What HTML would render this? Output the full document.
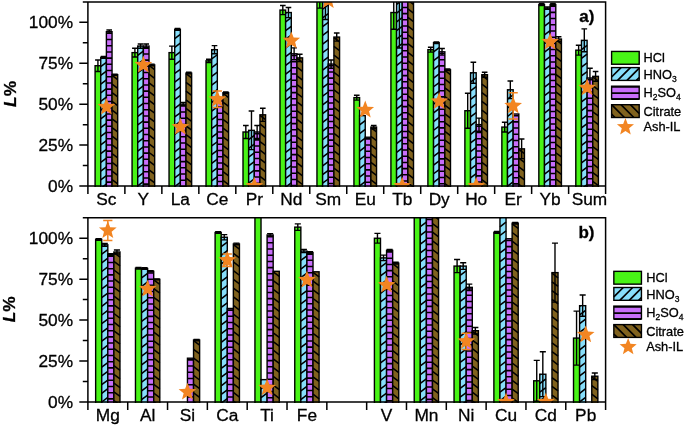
<!DOCTYPE html>
<html><head><meta charset="utf-8"><title>Leaching chart</title>
<style>html,body{margin:0;padding:0;background:#fff;overflow:hidden}svg{display:block}text{stroke:#000;stroke-width:.3px}</style></head>
<body>
<svg width="685" height="426" viewBox="0 0 685 426" font-family='"Liberation Sans", Arial, sans-serif' fill="#000">

<clipPath id="clipa"><rect x="87.90" y="1.90" width="517.70" height="185.10"/></clipPath>
<g clip-path="url(#clipa)">
<rect x="95.09" y="65.72" width="5.65" height="122.28" fill="#48f416"/><rect x="95.09" y="65.72" width="5.65" height="122.28" fill="none" stroke="#000" stroke-width="1.4"/>
<rect x="100.74" y="57.38" width="5.65" height="130.62" fill="#87defa"/><path d="M100.74 57.98L101.54 57.38M100.74 66.68L106.39 62.44M100.74 75.38L106.39 71.14M100.74 84.08L106.39 79.84M100.74 92.78L106.39 88.54M100.74 101.48L106.39 97.24M100.74 110.18L106.39 105.94M100.74 118.88L106.39 114.64M100.74 127.58L106.39 123.34M100.74 136.28L106.39 132.04M100.74 144.98L106.39 140.74M100.74 153.68L106.39 149.44M100.74 162.38L106.39 158.14M100.74 171.08L106.39 166.84M100.74 179.78L106.39 175.54M101.37 188.00L106.39 184.24" stroke="#000" stroke-width="1.55" fill="none"/><rect x="100.74" y="57.38" width="5.65" height="130.62" fill="none" stroke="#000" stroke-width="1.4"/>
<rect x="106.39" y="31.68" width="5.65" height="156.32" fill="#c86efa"/><path d="M106.39 33.33h5.65M106.39 39.53h5.65M106.39 45.73h5.65M106.39 51.93h5.65M106.39 58.13h5.65M106.39 64.33h5.65M106.39 70.53h5.65M106.39 76.73h5.65M106.39 82.93h5.65M106.39 89.13h5.65M106.39 95.33h5.65M106.39 101.53h5.65M106.39 107.73h5.65M106.39 113.93h5.65M106.39 120.13h5.65M106.39 126.33h5.65M106.39 132.53h5.65M106.39 138.73h5.65M106.39 144.93h5.65M106.39 151.13h5.65M106.39 157.33h5.65M106.39 163.53h5.65M106.39 169.73h5.65M106.39 175.93h5.65M106.39 182.13h5.65" stroke="#000" stroke-width="1.55" fill="none"/><rect x="106.39" y="31.68" width="5.65" height="156.32" fill="none" stroke="#000" stroke-width="1.4"/>
<rect x="112.04" y="74.72" width="5.65" height="113.28" fill="#80621e"/><path d="M112.04 75.32L117.69 79.56M112.04 84.02L117.69 88.26M112.04 92.72L117.69 96.96M112.04 101.42L117.69 105.66M112.04 110.12L117.69 114.36M112.04 118.82L117.69 123.06M112.04 127.52L117.69 131.76M112.04 136.22L117.69 140.46M112.04 144.92L117.69 149.16M112.04 153.62L117.69 157.86M112.04 162.32L117.69 166.56M112.04 171.02L117.69 175.26M112.04 179.72L117.69 183.96" stroke="#000" stroke-width="1.55" fill="none"/><rect x="112.04" y="74.72" width="5.65" height="113.28" fill="none" stroke="#000" stroke-width="1.4"/>
<rect x="132.07" y="52.63" width="5.65" height="135.37" fill="#48f416"/><rect x="132.07" y="52.63" width="5.65" height="135.37" fill="none" stroke="#000" stroke-width="1.4"/>
<rect x="137.72" y="46.08" width="5.65" height="141.92" fill="#87defa"/><path d="M137.72 46.68L138.52 46.08M137.72 55.38L143.37 51.15M137.72 64.08L143.37 59.85M137.72 72.78L143.37 68.55M137.72 81.48L143.37 77.25M137.72 90.18L143.37 85.95M137.72 98.88L143.37 94.65M137.72 107.58L143.37 103.35M137.72 116.28L143.37 112.05M137.72 124.98L143.37 120.75M137.72 133.68L143.37 129.45M137.72 142.38L143.37 138.15M137.72 151.08L143.37 146.85M137.72 159.78L143.37 155.55M137.72 168.48L143.37 164.25M137.72 177.18L143.37 172.95M137.72 185.88L143.37 181.65" stroke="#000" stroke-width="1.55" fill="none"/><rect x="137.72" y="46.08" width="5.65" height="141.92" fill="none" stroke="#000" stroke-width="1.4"/>
<rect x="143.37" y="46.08" width="5.65" height="141.92" fill="#c86efa"/><path d="M143.37 47.73h5.65M143.37 53.93h5.65M143.37 60.13h5.65M143.37 66.33h5.65M143.37 72.53h5.65M143.37 78.73h5.65M143.37 84.93h5.65M143.37 91.13h5.65M143.37 97.33h5.65M143.37 103.53h5.65M143.37 109.73h5.65M143.37 115.93h5.65M143.37 122.13h5.65M143.37 128.33h5.65M143.37 134.53h5.65M143.37 140.73h5.65M143.37 146.93h5.65M143.37 153.13h5.65M143.37 159.33h5.65M143.37 165.53h5.65M143.37 171.73h5.65M143.37 177.93h5.65M143.37 184.13h5.65" stroke="#000" stroke-width="1.55" fill="none"/><rect x="143.37" y="46.08" width="5.65" height="141.92" fill="none" stroke="#000" stroke-width="1.4"/>
<rect x="149.02" y="64.90" width="5.65" height="123.10" fill="#80621e"/><path d="M149.02 65.50L154.66 69.74M149.02 74.20L154.66 78.44M149.02 82.90L154.66 87.14M149.02 91.60L154.66 95.84M149.02 100.30L154.66 104.54M149.02 109.00L154.66 113.24M149.02 117.70L154.66 121.94M149.02 126.40L154.66 130.64M149.02 135.10L154.66 139.34M149.02 143.80L154.66 148.04M149.02 152.50L154.66 156.74M149.02 161.20L154.66 165.44M149.02 169.90L154.66 174.14M149.02 178.60L154.66 182.84M149.02 187.30L149.95 188.00" stroke="#000" stroke-width="1.55" fill="none"/><rect x="149.02" y="64.90" width="5.65" height="123.10" fill="none" stroke="#000" stroke-width="1.4"/>
<rect x="169.05" y="52.63" width="5.65" height="135.37" fill="#48f416"/><rect x="169.05" y="52.63" width="5.65" height="135.37" fill="none" stroke="#000" stroke-width="1.4"/>
<rect x="174.70" y="29.39" width="5.65" height="158.61" fill="#87defa"/><path d="M174.70 29.99L175.50 29.39M174.70 38.69L180.35 34.46M174.70 47.39L180.35 43.16M174.70 56.09L180.35 51.86M174.70 64.79L180.35 60.56M174.70 73.49L180.35 69.26M174.70 82.19L180.35 77.96M174.70 90.89L180.35 86.66M174.70 99.59L180.35 95.36M174.70 108.29L180.35 104.06M174.70 116.99L180.35 112.76M174.70 125.69L180.35 121.46M174.70 134.39L180.35 130.16M174.70 143.09L180.35 138.86M174.70 151.79L180.35 147.56M174.70 160.49L180.35 156.26M174.70 169.19L180.35 164.96M174.70 177.89L180.35 173.66M174.70 186.59L180.35 182.36" stroke="#000" stroke-width="1.55" fill="none"/><rect x="174.70" y="29.39" width="5.65" height="158.61" fill="none" stroke="#000" stroke-width="1.4"/>
<rect x="180.35" y="104.18" width="5.65" height="83.82" fill="#c86efa"/><path d="M180.35 105.83h5.65M180.35 112.03h5.65M180.35 118.23h5.65M180.35 124.43h5.65M180.35 130.63h5.65M180.35 136.83h5.65M180.35 143.03h5.65M180.35 149.23h5.65M180.35 155.43h5.65M180.35 161.63h5.65M180.35 167.83h5.65M180.35 174.03h5.65M180.35 180.23h5.65M180.35 186.43h5.65" stroke="#000" stroke-width="1.55" fill="none"/><rect x="180.35" y="104.18" width="5.65" height="83.82" fill="none" stroke="#000" stroke-width="1.4"/>
<rect x="185.99" y="73.09" width="5.65" height="114.91" fill="#80621e"/><path d="M185.99 73.69L191.64 77.92M185.99 82.39L191.64 86.62M185.99 91.09L191.64 95.32M185.99 99.79L191.64 104.02M185.99 108.49L191.64 112.72M185.99 117.19L191.64 121.42M185.99 125.89L191.64 130.12M185.99 134.59L191.64 138.82M185.99 143.29L191.64 147.52M185.99 151.99L191.64 156.22M185.99 160.69L191.64 164.92M185.99 169.39L191.64 173.62M185.99 178.09L191.64 182.32M185.99 186.79L187.61 188.00" stroke="#000" stroke-width="1.55" fill="none"/><rect x="185.99" y="73.09" width="5.65" height="114.91" fill="none" stroke="#000" stroke-width="1.4"/>
<rect x="206.03" y="60.81" width="5.65" height="127.19" fill="#48f416"/><rect x="206.03" y="60.81" width="5.65" height="127.19" fill="none" stroke="#000" stroke-width="1.4"/>
<rect x="211.68" y="49.68" width="5.65" height="138.32" fill="#87defa"/><path d="M211.68 50.28L212.48 49.68M211.68 58.98L217.33 54.75M211.68 67.68L217.33 63.45M211.68 76.38L217.33 72.15M211.68 85.08L217.33 80.85M211.68 93.78L217.33 89.55M211.68 102.48L217.33 98.25M211.68 111.18L217.33 106.95M211.68 119.88L217.33 115.65M211.68 128.58L217.33 124.35M211.68 137.28L217.33 133.05M211.68 145.98L217.33 141.75M211.68 154.68L217.33 150.45M211.68 163.38L217.33 159.15M211.68 172.08L217.33 167.85M211.68 180.78L217.33 176.55M213.66 188.00L217.33 185.25" stroke="#000" stroke-width="1.55" fill="none"/><rect x="211.68" y="49.68" width="5.65" height="138.32" fill="none" stroke="#000" stroke-width="1.4"/>
<rect x="217.33" y="99.27" width="5.65" height="88.73" fill="#c86efa"/><path d="M217.33 100.92h5.65M217.33 107.12h5.65M217.33 113.32h5.65M217.33 119.52h5.65M217.33 125.72h5.65M217.33 131.92h5.65M217.33 138.12h5.65M217.33 144.32h5.65M217.33 150.52h5.65M217.33 156.72h5.65M217.33 162.92h5.65M217.33 169.12h5.65M217.33 175.32h5.65M217.33 181.52h5.65M217.33 187.72h5.65" stroke="#000" stroke-width="1.55" fill="none"/><rect x="217.33" y="99.27" width="5.65" height="88.73" fill="none" stroke="#000" stroke-width="1.4"/>
<rect x="222.97" y="92.72" width="5.65" height="95.28" fill="#80621e"/><path d="M222.97 93.32L228.62 97.56M222.97 102.02L228.62 106.26M222.97 110.72L228.62 114.96M222.97 119.42L228.62 123.66M222.97 128.12L228.62 132.36M222.97 136.82L228.62 141.06M222.97 145.52L228.62 149.76M222.97 154.22L228.62 158.46M222.97 162.92L228.62 167.16M222.97 171.62L228.62 175.86M222.97 180.32L228.62 184.56" stroke="#000" stroke-width="1.55" fill="none"/><rect x="222.97" y="92.72" width="5.65" height="95.28" fill="none" stroke="#000" stroke-width="1.4"/>
<rect x="243.01" y="132.00" width="5.65" height="56.00" fill="#48f416"/><rect x="243.01" y="132.00" width="5.65" height="56.00" fill="none" stroke="#000" stroke-width="1.4"/>
<rect x="248.66" y="130.36" width="5.65" height="57.64" fill="#87defa"/><path d="M248.66 130.96L249.46 130.36M248.66 139.66L254.30 135.42M248.66 148.36L254.30 144.12M248.66 157.06L254.30 152.82M248.66 165.76L254.30 161.52M248.66 174.46L254.30 170.22M248.66 183.16L254.30 178.92M253.80 188.00L254.30 187.62" stroke="#000" stroke-width="1.55" fill="none"/><rect x="248.66" y="130.36" width="5.65" height="57.64" fill="none" stroke="#000" stroke-width="1.4"/>
<rect x="254.30" y="132.00" width="5.65" height="56.00" fill="#c86efa"/><path d="M254.30 133.65h5.65M254.30 139.85h5.65M254.30 146.05h5.65M254.30 152.25h5.65M254.30 158.45h5.65M254.30 164.65h5.65M254.30 170.85h5.65M254.30 177.05h5.65M254.30 183.25h5.65" stroke="#000" stroke-width="1.55" fill="none"/><rect x="254.30" y="132.00" width="5.65" height="56.00" fill="none" stroke="#000" stroke-width="1.4"/>
<rect x="259.95" y="114.81" width="5.65" height="73.19" fill="#80621e"/><path d="M259.95 115.41L265.60 119.65M259.95 124.11L265.60 128.35M259.95 132.81L265.60 137.05M259.95 141.51L265.60 145.75M259.95 150.21L265.60 154.45M259.95 158.91L265.60 163.15M259.95 167.61L265.60 171.85M259.95 176.31L265.60 180.55M259.95 185.01L263.93 188.00" stroke="#000" stroke-width="1.55" fill="none"/><rect x="259.95" y="114.81" width="5.65" height="73.19" fill="none" stroke="#000" stroke-width="1.4"/>
<rect x="279.99" y="10.08" width="5.65" height="177.92" fill="#48f416"/><rect x="279.99" y="10.08" width="5.65" height="177.92" fill="none" stroke="#000" stroke-width="1.4"/>
<rect x="285.63" y="12.54" width="5.65" height="175.46" fill="#87defa"/><path d="M285.63 13.14L286.43 12.54M285.63 21.84L291.28 17.60M285.63 30.54L291.28 26.30M285.63 39.24L291.28 35.00M285.63 47.94L291.28 43.70M285.63 56.64L291.28 52.40M285.63 65.34L291.28 61.10M285.63 74.04L291.28 69.80M285.63 82.74L291.28 78.50M285.63 91.44L291.28 87.20M285.63 100.14L291.28 95.90M285.63 108.84L291.28 104.60M285.63 117.54L291.28 113.30M285.63 126.24L291.28 122.00M285.63 134.94L291.28 130.70M285.63 143.64L291.28 139.40M285.63 152.34L291.28 148.10M285.63 161.04L291.28 156.80M285.63 169.74L291.28 165.50M285.63 178.44L291.28 174.20M285.63 187.14L291.28 182.90" stroke="#000" stroke-width="1.55" fill="none"/><rect x="285.63" y="12.54" width="5.65" height="175.46" fill="none" stroke="#000" stroke-width="1.4"/>
<rect x="291.28" y="53.78" width="5.65" height="134.22" fill="#c86efa"/><path d="M291.28 55.43h5.65M291.28 61.63h5.65M291.28 67.83h5.65M291.28 74.03h5.65M291.28 80.23h5.65M291.28 86.43h5.65M291.28 92.63h5.65M291.28 98.83h5.65M291.28 105.03h5.65M291.28 111.23h5.65M291.28 117.43h5.65M291.28 123.63h5.65M291.28 129.83h5.65M291.28 136.03h5.65M291.28 142.23h5.65M291.28 148.43h5.65M291.28 154.63h5.65M291.28 160.83h5.65M291.28 167.03h5.65M291.28 173.23h5.65M291.28 179.43h5.65M291.28 185.63h5.65" stroke="#000" stroke-width="1.55" fill="none"/><rect x="291.28" y="53.78" width="5.65" height="134.22" fill="none" stroke="#000" stroke-width="1.4"/>
<rect x="296.93" y="57.87" width="5.65" height="130.13" fill="#80621e"/><path d="M296.93 58.47L302.58 62.70M296.93 67.17L302.58 71.40M296.93 75.87L302.58 80.10M296.93 84.57L302.58 88.80M296.93 93.27L302.58 97.50M296.93 101.97L302.58 106.20M296.93 110.67L302.58 114.90M296.93 119.37L302.58 123.60M296.93 128.07L302.58 132.30M296.93 136.77L302.58 141.00M296.93 145.47L302.58 149.70M296.93 154.17L302.58 158.40M296.93 162.87L302.58 167.10M296.93 171.57L302.58 175.80M296.93 180.27L302.58 184.50" stroke="#000" stroke-width="1.55" fill="none"/><rect x="296.93" y="57.87" width="5.65" height="130.13" fill="none" stroke="#000" stroke-width="1.4"/>
<rect x="316.96" y="-3.83" width="5.65" height="191.83" fill="#48f416"/><rect x="316.96" y="-3.83" width="5.65" height="191.83" fill="none" stroke="#000" stroke-width="1.4"/>
<rect x="322.61" y="-0.06" width="5.65" height="188.06" fill="#87defa"/><path d="M322.61 0.54L323.41 -0.06M322.61 9.24L328.26 5.00M322.61 17.94L328.26 13.70M322.61 26.64L328.26 22.40M322.61 35.34L328.26 31.10M322.61 44.04L328.26 39.80M322.61 52.74L328.26 48.50M322.61 61.44L328.26 57.20M322.61 70.14L328.26 65.90M322.61 78.84L328.26 74.60M322.61 87.54L328.26 83.30M322.61 96.24L328.26 92.00M322.61 104.94L328.26 100.70M322.61 113.64L328.26 109.40M322.61 122.34L328.26 118.10M322.61 131.04L328.26 126.80M322.61 139.74L328.26 135.50M322.61 148.44L328.26 144.20M322.61 157.14L328.26 152.90M322.61 165.84L328.26 161.60M322.61 174.54L328.26 170.30M322.61 183.24L328.26 179.00M327.86 188.00L328.26 187.70" stroke="#000" stroke-width="1.55" fill="none"/><rect x="322.61" y="-0.06" width="5.65" height="188.06" fill="none" stroke="#000" stroke-width="1.4"/>
<rect x="328.26" y="64.08" width="5.65" height="123.92" fill="#c86efa"/><path d="M328.26 65.73h5.65M328.26 71.93h5.65M328.26 78.13h5.65M328.26 84.33h5.65M328.26 90.53h5.65M328.26 96.73h5.65M328.26 102.93h5.65M328.26 109.13h5.65M328.26 115.33h5.65M328.26 121.53h5.65M328.26 127.73h5.65M328.26 133.93h5.65M328.26 140.13h5.65M328.26 146.33h5.65M328.26 152.53h5.65M328.26 158.73h5.65M328.26 164.93h5.65M328.26 171.13h5.65M328.26 177.33h5.65M328.26 183.53h5.65" stroke="#000" stroke-width="1.55" fill="none"/><rect x="328.26" y="64.08" width="5.65" height="123.92" fill="none" stroke="#000" stroke-width="1.4"/>
<rect x="333.91" y="37.08" width="5.65" height="150.92" fill="#80621e"/><path d="M333.91 37.68L339.56 41.92M333.91 46.38L339.56 50.62M333.91 55.08L339.56 59.32M333.91 63.78L339.56 68.02M333.91 72.48L339.56 76.72M333.91 81.18L339.56 85.42M333.91 89.88L339.56 94.12M333.91 98.58L339.56 102.82M333.91 107.28L339.56 111.52M333.91 115.98L339.56 120.22M333.91 124.68L339.56 128.92M333.91 133.38L339.56 137.62M333.91 142.08L339.56 146.32M333.91 150.78L339.56 155.02M333.91 159.48L339.56 163.72M333.91 168.18L339.56 172.42M333.91 176.88L339.56 181.12M333.91 185.58L337.13 188.00" stroke="#000" stroke-width="1.55" fill="none"/><rect x="333.91" y="37.08" width="5.65" height="150.92" fill="none" stroke="#000" stroke-width="1.4"/>
<rect x="353.94" y="97.63" width="5.65" height="90.37" fill="#48f416"/><rect x="353.94" y="97.63" width="5.65" height="90.37" fill="none" stroke="#000" stroke-width="1.4"/>
<rect x="359.59" y="115.63" width="5.65" height="72.37" fill="#87defa"/><path d="M359.59 116.23L360.39 115.63M359.59 124.93L365.24 120.70M359.59 133.63L365.24 129.40M359.59 142.33L365.24 138.10M359.59 151.03L365.24 146.80M359.59 159.73L365.24 155.50M359.59 168.43L365.24 164.20M359.59 177.13L365.24 172.90M359.59 185.83L365.24 181.60" stroke="#000" stroke-width="1.55" fill="none"/><rect x="359.59" y="115.63" width="5.65" height="72.37" fill="none" stroke="#000" stroke-width="1.4"/>
<rect x="365.24" y="137.23" width="5.65" height="50.77" fill="#c86efa"/><path d="M365.24 138.88h5.65M365.24 145.08h5.65M365.24 151.28h5.65M365.24 157.48h5.65M365.24 163.68h5.65M365.24 169.88h5.65M365.24 176.08h5.65M365.24 182.28h5.65" stroke="#000" stroke-width="1.55" fill="none"/><rect x="365.24" y="137.23" width="5.65" height="50.77" fill="none" stroke="#000" stroke-width="1.4"/>
<rect x="370.89" y="127.09" width="5.65" height="60.91" fill="#80621e"/><path d="M370.89 127.69L376.54 131.92M370.89 136.39L376.54 140.62M370.89 145.09L376.54 149.32M370.89 153.79L376.54 158.02M370.89 162.49L376.54 166.72M370.89 171.19L376.54 175.42M370.89 179.89L376.54 184.12" stroke="#000" stroke-width="1.55" fill="none"/><rect x="370.89" y="127.09" width="5.65" height="60.91" fill="none" stroke="#000" stroke-width="1.4"/>
<rect x="390.92" y="12.54" width="5.65" height="175.46" fill="#48f416"/><rect x="390.92" y="12.54" width="5.65" height="175.46" fill="none" stroke="#000" stroke-width="1.4"/>
<rect x="396.57" y="-4.89" width="5.65" height="192.89" fill="#87defa"/><path d="M396.57 -4.29L397.37 -4.89M396.57 4.41L402.22 0.17M396.57 13.11L402.22 8.87M396.57 21.81L402.22 17.57M396.57 30.51L402.22 26.27M396.57 39.21L402.22 34.97M396.57 47.91L402.22 43.67M396.57 56.61L402.22 52.37M396.57 65.31L402.22 61.07M396.57 74.01L402.22 69.77M396.57 82.71L402.22 78.47M396.57 91.41L402.22 87.17M396.57 100.11L402.22 95.87M396.57 108.81L402.22 104.57M396.57 117.51L402.22 113.27M396.57 126.21L402.22 121.97M396.57 134.91L402.22 130.67M396.57 143.61L402.22 139.37M396.57 152.31L402.22 148.07M396.57 161.01L402.22 156.77M396.57 169.71L402.22 165.47M396.57 178.41L402.22 174.17M396.57 187.11L402.22 182.87" stroke="#000" stroke-width="1.55" fill="none"/><rect x="396.57" y="-4.89" width="5.65" height="192.89" fill="none" stroke="#000" stroke-width="1.4"/>
<rect x="402.22" y="-6.61" width="5.65" height="194.61" fill="#c86efa"/><path d="M402.22 -4.96h5.65M402.22 1.24h5.65M402.22 7.44h5.65M402.22 13.64h5.65M402.22 19.84h5.65M402.22 26.04h5.65M402.22 32.24h5.65M402.22 38.44h5.65M402.22 44.64h5.65M402.22 50.84h5.65M402.22 57.04h5.65M402.22 63.24h5.65M402.22 69.44h5.65M402.22 75.64h5.65M402.22 81.84h5.65M402.22 88.04h5.65M402.22 94.24h5.65M402.22 100.44h5.65M402.22 106.64h5.65M402.22 112.84h5.65M402.22 119.04h5.65M402.22 125.24h5.65M402.22 131.44h5.65M402.22 137.64h5.65M402.22 143.84h5.65M402.22 150.04h5.65M402.22 156.24h5.65M402.22 162.44h5.65M402.22 168.64h5.65M402.22 174.84h5.65M402.22 181.04h5.65M402.22 187.24h5.65" stroke="#000" stroke-width="1.55" fill="none"/><rect x="402.22" y="-6.61" width="5.65" height="194.61" fill="none" stroke="#000" stroke-width="1.4"/>
<rect x="407.87" y="-9.23" width="5.65" height="197.23" fill="#80621e"/><path d="M407.87 -8.63L413.51 -4.39M407.87 0.07L413.51 4.31M407.87 8.77L413.51 13.01M407.87 17.47L413.51 21.71M407.87 26.17L413.51 30.41M407.87 34.87L413.51 39.11M407.87 43.57L413.51 47.81M407.87 52.27L413.51 56.51M407.87 60.97L413.51 65.21M407.87 69.67L413.51 73.91M407.87 78.37L413.51 82.61M407.87 87.07L413.51 91.31M407.87 95.77L413.51 100.01M407.87 104.47L413.51 108.71M407.87 113.17L413.51 117.41M407.87 121.87L413.51 126.11M407.87 130.57L413.51 134.81M407.87 139.27L413.51 143.51M407.87 147.97L413.51 152.21M407.87 156.67L413.51 160.91M407.87 165.37L413.51 169.61M407.87 174.07L413.51 178.31M407.87 182.77L413.51 187.01" stroke="#000" stroke-width="1.55" fill="none"/><rect x="407.87" y="-9.23" width="5.65" height="197.23" fill="none" stroke="#000" stroke-width="1.4"/>
<rect x="427.90" y="49.68" width="5.65" height="138.32" fill="#48f416"/><rect x="427.90" y="49.68" width="5.65" height="138.32" fill="none" stroke="#000" stroke-width="1.4"/>
<rect x="433.55" y="42.65" width="5.65" height="145.35" fill="#87defa"/><path d="M433.55 43.25L434.35 42.65M433.55 51.95L439.20 47.71M433.55 60.65L439.20 56.41M433.55 69.35L439.20 65.11M433.55 78.05L439.20 73.81M433.55 86.75L439.20 82.51M433.55 95.45L439.20 91.21M433.55 104.15L439.20 99.91M433.55 112.85L439.20 108.61M433.55 121.55L439.20 117.31M433.55 130.25L439.20 126.01M433.55 138.95L439.20 134.71M433.55 147.65L439.20 143.41M433.55 156.35L439.20 152.11M433.55 165.05L439.20 160.81M433.55 173.75L439.20 169.51M433.55 182.45L439.20 178.21M437.74 188.00L439.20 186.91" stroke="#000" stroke-width="1.55" fill="none"/><rect x="433.55" y="42.65" width="5.65" height="145.35" fill="none" stroke="#000" stroke-width="1.4"/>
<rect x="439.20" y="51.81" width="5.65" height="136.19" fill="#c86efa"/><path d="M439.20 53.46h5.65M439.20 59.66h5.65M439.20 65.86h5.65M439.20 72.06h5.65M439.20 78.26h5.65M439.20 84.46h5.65M439.20 90.66h5.65M439.20 96.86h5.65M439.20 103.06h5.65M439.20 109.26h5.65M439.20 115.46h5.65M439.20 121.66h5.65M439.20 127.86h5.65M439.20 134.06h5.65M439.20 140.26h5.65M439.20 146.46h5.65M439.20 152.66h5.65M439.20 158.86h5.65M439.20 165.06h5.65M439.20 171.26h5.65M439.20 177.46h5.65M439.20 183.66h5.65" stroke="#000" stroke-width="1.55" fill="none"/><rect x="439.20" y="51.81" width="5.65" height="136.19" fill="none" stroke="#000" stroke-width="1.4"/>
<rect x="444.84" y="69.81" width="5.65" height="118.19" fill="#80621e"/><path d="M444.84 70.41L450.49 74.65M444.84 79.11L450.49 83.35M444.84 87.81L450.49 92.05M444.84 96.51L450.49 100.75M444.84 105.21L450.49 109.45M444.84 113.91L450.49 118.15M444.84 122.61L450.49 126.85M444.84 131.31L450.49 135.55M444.84 140.01L450.49 144.25M444.84 148.71L450.49 152.95M444.84 157.41L450.49 161.65M444.84 166.11L450.49 170.35M444.84 174.81L450.49 179.05M444.84 183.51L450.49 187.75" stroke="#000" stroke-width="1.55" fill="none"/><rect x="444.84" y="69.81" width="5.65" height="118.19" fill="none" stroke="#000" stroke-width="1.4"/>
<rect x="464.88" y="110.72" width="5.65" height="77.28" fill="#48f416"/><rect x="464.88" y="110.72" width="5.65" height="77.28" fill="none" stroke="#000" stroke-width="1.4"/>
<rect x="470.53" y="72.76" width="5.65" height="115.24" fill="#87defa"/><path d="M470.53 73.36L471.33 72.76M470.53 82.06L476.18 77.82M470.53 90.76L476.18 86.52M470.53 99.46L476.18 95.22M470.53 108.16L476.18 103.92M470.53 116.86L476.18 112.62M470.53 125.56L476.18 121.32M470.53 134.26L476.18 130.02M470.53 142.96L476.18 138.72M470.53 151.66L476.18 147.42M470.53 160.36L476.18 156.12M470.53 169.06L476.18 164.82M470.53 177.76L476.18 173.52M470.53 186.46L476.18 182.22" stroke="#000" stroke-width="1.55" fill="none"/><rect x="470.53" y="72.76" width="5.65" height="115.24" fill="none" stroke="#000" stroke-width="1.4"/>
<rect x="476.18" y="124.63" width="5.65" height="63.37" fill="#c86efa"/><path d="M476.18 126.28h5.65M476.18 132.48h5.65M476.18 138.68h5.65M476.18 144.88h5.65M476.18 151.08h5.65M476.18 157.28h5.65M476.18 163.48h5.65M476.18 169.68h5.65M476.18 175.88h5.65M476.18 182.08h5.65" stroke="#000" stroke-width="1.55" fill="none"/><rect x="476.18" y="124.63" width="5.65" height="63.37" fill="none" stroke="#000" stroke-width="1.4"/>
<rect x="481.82" y="74.72" width="5.65" height="113.28" fill="#80621e"/><path d="M481.82 75.32L487.47 79.56M481.82 84.02L487.47 88.26M481.82 92.72L487.47 96.96M481.82 101.42L487.47 105.66M481.82 110.12L487.47 114.36M481.82 118.82L487.47 123.06M481.82 127.52L487.47 131.76M481.82 136.22L487.47 140.46M481.82 144.92L487.47 149.16M481.82 153.62L487.47 157.86M481.82 162.32L487.47 166.56M481.82 171.02L487.47 175.26M481.82 179.72L487.47 183.96" stroke="#000" stroke-width="1.55" fill="none"/><rect x="481.82" y="74.72" width="5.65" height="113.28" fill="none" stroke="#000" stroke-width="1.4"/>
<rect x="501.86" y="127.09" width="5.65" height="60.91" fill="#48f416"/><rect x="501.86" y="127.09" width="5.65" height="60.91" fill="none" stroke="#000" stroke-width="1.4"/>
<rect x="507.51" y="89.78" width="5.65" height="98.22" fill="#87defa"/><path d="M507.51 90.38L508.31 89.78M507.51 99.08L513.15 94.84M507.51 107.78L513.15 103.54M507.51 116.48L513.15 112.24M507.51 125.18L513.15 120.94M507.51 133.88L513.15 129.64M507.51 142.58L513.15 138.34M507.51 151.28L513.15 147.04M507.51 159.98L513.15 155.74M507.51 168.68L513.15 164.44M507.51 177.38L513.15 173.14M507.51 186.08L513.15 181.84" stroke="#000" stroke-width="1.55" fill="none"/><rect x="507.51" y="89.78" width="5.65" height="98.22" fill="none" stroke="#000" stroke-width="1.4"/>
<rect x="513.15" y="114.00" width="5.65" height="74.00" fill="#c86efa"/><path d="M513.15 115.65h5.65M513.15 121.85h5.65M513.15 128.05h5.65M513.15 134.25h5.65M513.15 140.45h5.65M513.15 146.65h5.65M513.15 152.85h5.65M513.15 159.05h5.65M513.15 165.25h5.65M513.15 171.45h5.65M513.15 177.65h5.65M513.15 183.85h5.65" stroke="#000" stroke-width="1.55" fill="none"/><rect x="513.15" y="114.00" width="5.65" height="74.00" fill="none" stroke="#000" stroke-width="1.4"/>
<rect x="518.80" y="148.85" width="5.65" height="39.15" fill="#80621e"/><path d="M518.80 149.45L524.45 153.69M518.80 158.15L524.45 162.39M518.80 166.85L524.45 171.09M518.80 175.55L524.45 179.79M518.80 184.25L523.80 188.00" stroke="#000" stroke-width="1.55" fill="none"/><rect x="518.80" y="148.85" width="5.65" height="39.15" fill="none" stroke="#000" stroke-width="1.4"/>
<rect x="538.84" y="4.52" width="5.65" height="183.48" fill="#48f416"/><rect x="538.84" y="4.52" width="5.65" height="183.48" fill="none" stroke="#000" stroke-width="1.4"/>
<rect x="544.48" y="8.12" width="5.65" height="179.88" fill="#87defa"/><path d="M544.48 8.72L545.28 8.12M544.48 17.42L550.13 13.18M544.48 26.12L550.13 21.88M544.48 34.82L550.13 30.58M544.48 43.52L550.13 39.28M544.48 52.22L550.13 47.98M544.48 60.92L550.13 56.68M544.48 69.62L550.13 65.38M544.48 78.32L550.13 74.08M544.48 87.02L550.13 82.78M544.48 95.72L550.13 91.48M544.48 104.42L550.13 100.18M544.48 113.12L550.13 108.88M544.48 121.82L550.13 117.58M544.48 130.52L550.13 126.28M544.48 139.22L550.13 134.98M544.48 147.92L550.13 143.68M544.48 156.62L550.13 152.38M544.48 165.32L550.13 161.08M544.48 174.02L550.13 169.78M544.48 182.72L550.13 178.48M549.04 188.00L550.13 187.18" stroke="#000" stroke-width="1.55" fill="none"/><rect x="544.48" y="8.12" width="5.65" height="179.88" fill="none" stroke="#000" stroke-width="1.4"/>
<rect x="550.13" y="4.52" width="5.65" height="183.48" fill="#c86efa"/><path d="M550.13 6.17h5.65M550.13 12.37h5.65M550.13 18.57h5.65M550.13 24.77h5.65M550.13 30.97h5.65M550.13 37.17h5.65M550.13 43.37h5.65M550.13 49.57h5.65M550.13 55.77h5.65M550.13 61.97h5.65M550.13 68.17h5.65M550.13 74.37h5.65M550.13 80.57h5.65M550.13 86.77h5.65M550.13 92.97h5.65M550.13 99.17h5.65M550.13 105.37h5.65M550.13 111.57h5.65M550.13 117.77h5.65M550.13 123.97h5.65M550.13 130.17h5.65M550.13 136.37h5.65M550.13 142.57h5.65M550.13 148.77h5.65M550.13 154.97h5.65M550.13 161.17h5.65M550.13 167.37h5.65M550.13 173.57h5.65M550.13 179.77h5.65M550.13 185.97h5.65" stroke="#000" stroke-width="1.55" fill="none"/><rect x="550.13" y="4.52" width="5.65" height="183.48" fill="none" stroke="#000" stroke-width="1.4"/>
<rect x="555.78" y="39.05" width="5.65" height="148.95" fill="#80621e"/><path d="M555.78 39.65L561.43 43.88M555.78 48.35L561.43 52.58M555.78 57.05L561.43 61.28M555.78 65.75L561.43 69.98M555.78 74.45L561.43 78.68M555.78 83.15L561.43 87.38M555.78 91.85L561.43 96.08M555.78 100.55L561.43 104.78M555.78 109.25L561.43 113.48M555.78 117.95L561.43 122.18M555.78 126.65L561.43 130.88M555.78 135.35L561.43 139.58M555.78 144.05L561.43 148.28M555.78 152.75L561.43 156.98M555.78 161.45L561.43 165.68M555.78 170.15L561.43 174.38M555.78 178.85L561.43 183.08M555.78 187.55L556.38 188.00" stroke="#000" stroke-width="1.55" fill="none"/><rect x="555.78" y="39.05" width="5.65" height="148.95" fill="none" stroke="#000" stroke-width="1.4"/>
<rect x="575.81" y="50.18" width="5.65" height="137.82" fill="#48f416"/><rect x="575.81" y="50.18" width="5.65" height="137.82" fill="none" stroke="#000" stroke-width="1.4"/>
<rect x="581.46" y="40.36" width="5.65" height="147.64" fill="#87defa"/><path d="M581.46 40.96L582.26 40.36M581.46 49.66L587.11 45.42M581.46 58.36L587.11 54.12M581.46 67.06L587.11 62.82M581.46 75.76L587.11 71.52M581.46 84.46L587.11 80.22M581.46 93.16L587.11 88.92M581.46 101.86L587.11 97.62M581.46 110.56L587.11 106.32M581.46 119.26L587.11 115.02M581.46 127.96L587.11 123.72M581.46 136.66L587.11 132.42M581.46 145.36L587.11 141.12M581.46 154.06L587.11 149.82M581.46 162.76L587.11 158.52M581.46 171.46L587.11 167.22M581.46 180.16L587.11 175.92M582.60 188.00L587.11 184.62" stroke="#000" stroke-width="1.55" fill="none"/><rect x="581.46" y="40.36" width="5.65" height="147.64" fill="none" stroke="#000" stroke-width="1.4"/>
<rect x="587.11" y="77.99" width="5.65" height="110.01" fill="#c86efa"/><path d="M587.11 79.64h5.65M587.11 85.84h5.65M587.11 92.04h5.65M587.11 98.24h5.65M587.11 104.44h5.65M587.11 110.64h5.65M587.11 116.84h5.65M587.11 123.04h5.65M587.11 129.24h5.65M587.11 135.44h5.65M587.11 141.64h5.65M587.11 147.84h5.65M587.11 154.04h5.65M587.11 160.24h5.65M587.11 166.44h5.65M587.11 172.64h5.65M587.11 178.84h5.65M587.11 185.04h5.65" stroke="#000" stroke-width="1.55" fill="none"/><rect x="587.11" y="77.99" width="5.65" height="110.01" fill="none" stroke="#000" stroke-width="1.4"/>
<rect x="592.76" y="76.36" width="5.65" height="111.64" fill="#80621e"/><path d="M592.76 76.96L598.41 81.19M592.76 85.66L598.41 89.89M592.76 94.36L598.41 98.59M592.76 103.06L598.41 107.29M592.76 111.76L598.41 115.99M592.76 120.46L598.41 124.69M592.76 129.16L598.41 133.39M592.76 137.86L598.41 142.09M592.76 146.56L598.41 150.79M592.76 155.26L598.41 159.49M592.76 163.96L598.41 168.19M592.76 172.66L598.41 176.89M592.76 181.36L598.41 185.59" stroke="#000" stroke-width="1.55" fill="none"/><rect x="592.76" y="76.36" width="5.65" height="111.64" fill="none" stroke="#000" stroke-width="1.4"/>
<path d="M97.92 59.99V71.45M95.09 59.99h5.65M95.09 71.45h5.65" stroke="#000" stroke-width="1.4" fill="none"/>
<path d="M103.57 56.56V58.19M100.74 56.56h5.65M100.74 58.19h5.65" stroke="#000" stroke-width="1.4" fill="none"/>
<path d="M109.21 30.05V33.32M106.39 30.05h5.65M106.39 33.32h5.65" stroke="#000" stroke-width="1.4" fill="none"/>
<path d="M114.86 74.23V75.21M112.04 74.23h5.65M112.04 75.21h5.65" stroke="#000" stroke-width="1.4" fill="none"/>
<path d="M134.90 48.21V57.05M132.07 48.21h5.65M132.07 57.05h5.65" stroke="#000" stroke-width="1.4" fill="none"/>
<path d="M140.54 43.96V48.21M137.72 43.96h5.65M137.72 48.21h5.65" stroke="#000" stroke-width="1.4" fill="none"/>
<path d="M146.19 43.96V48.21M143.37 43.96h5.65M143.37 48.21h5.65" stroke="#000" stroke-width="1.4" fill="none"/>
<path d="M151.84 64.08V65.72M149.02 64.08h5.65M149.02 65.72h5.65" stroke="#000" stroke-width="1.4" fill="none"/>
<path d="M171.87 46.08V59.18M169.05 46.08h5.65M169.05 59.18h5.65" stroke="#000" stroke-width="1.4" fill="none"/>
<path d="M177.52 28.57V30.21M174.70 28.57h5.65M174.70 30.21h5.65" stroke="#000" stroke-width="1.4" fill="none"/>
<path d="M183.17 102.54V105.81M180.35 102.54h5.65M180.35 105.81h5.65" stroke="#000" stroke-width="1.4" fill="none"/>
<path d="M188.82 72.27V73.90M185.99 72.27h5.65M185.99 73.90h5.65" stroke="#000" stroke-width="1.4" fill="none"/>
<path d="M208.85 59.18V62.45M206.03 59.18h5.65M206.03 62.45h5.65" stroke="#000" stroke-width="1.4" fill="none"/>
<path d="M214.50 45.59V53.78M211.68 45.59h5.65M211.68 53.78h5.65" stroke="#000" stroke-width="1.4" fill="none"/>
<path d="M225.80 91.90V93.54M222.97 91.90h5.65M222.97 93.54h5.65" stroke="#000" stroke-width="1.4" fill="none"/>
<path d="M245.83 125.45V138.54M243.01 125.45h5.65M243.01 138.54h5.65" stroke="#000" stroke-width="1.4" fill="none"/>
<path d="M251.48 111.05V149.67M248.66 111.05h5.65M248.66 149.67h5.65" stroke="#000" stroke-width="1.4" fill="none"/>
<path d="M257.13 125.45V138.54M254.30 125.45h5.65M254.30 138.54h5.65" stroke="#000" stroke-width="1.4" fill="none"/>
<path d="M262.78 108.27V121.36M259.95 108.27h5.65M259.95 121.36h5.65" stroke="#000" stroke-width="1.4" fill="none"/>
<path d="M282.81 5.50V14.66M279.99 5.50h5.65M279.99 14.66h5.65" stroke="#000" stroke-width="1.4" fill="none"/>
<path d="M288.46 7.46V17.61M285.63 7.46h5.65M285.63 17.61h5.65" stroke="#000" stroke-width="1.4" fill="none"/>
<path d="M294.11 47.88V59.67M291.28 47.88h5.65M291.28 59.67h5.65" stroke="#000" stroke-width="1.4" fill="none"/>
<path d="M299.75 54.27V61.47M296.93 54.27h5.65M296.93 61.47h5.65" stroke="#000" stroke-width="1.4" fill="none"/>
<path d="M319.79 -15.77V8.12M316.96 -15.77h5.65M316.96 8.12h5.65" stroke="#000" stroke-width="1.4" fill="none"/>
<path d="M325.44 -19.70V19.57M322.61 -19.70h5.65M322.61 19.57h5.65" stroke="#000" stroke-width="1.4" fill="none"/>
<path d="M331.08 59.99V68.18M328.26 59.99h5.65M328.26 68.18h5.65" stroke="#000" stroke-width="1.4" fill="none"/>
<path d="M336.73 32.99V41.17M333.91 32.99h5.65M333.91 41.17h5.65" stroke="#000" stroke-width="1.4" fill="none"/>
<path d="M356.77 95.18V100.09M353.94 95.18h5.65M353.94 100.09h5.65" stroke="#000" stroke-width="1.4" fill="none"/>
<path d="M373.71 125.45V128.72M370.89 125.45h5.65M370.89 128.72h5.65" stroke="#000" stroke-width="1.4" fill="none"/>
<path d="M393.75 -4.15V29.23M390.92 -4.15h5.65M390.92 29.23h5.65" stroke="#000" stroke-width="1.4" fill="none"/>
<path d="M399.39 -57.83V48.05M396.57 -57.83h5.65M396.57 48.05h5.65" stroke="#000" stroke-width="1.4" fill="none"/>
<path d="M430.72 47.23V52.14M427.90 47.23h5.65M427.90 52.14h5.65" stroke="#000" stroke-width="1.4" fill="none"/>
<path d="M436.37 41.83V43.47M433.55 41.83h5.65M433.55 43.47h5.65" stroke="#000" stroke-width="1.4" fill="none"/>
<path d="M442.02 48.54V55.08M439.20 48.54h5.65M439.20 55.08h5.65" stroke="#000" stroke-width="1.4" fill="none"/>
<path d="M447.67 68.99V70.63M444.84 68.99h5.65M444.84 70.63h5.65" stroke="#000" stroke-width="1.4" fill="none"/>
<path d="M467.70 93.21V128.23M464.88 93.21h5.65M464.88 128.23h5.65" stroke="#000" stroke-width="1.4" fill="none"/>
<path d="M473.35 62.28V83.23M470.53 62.28h5.65M470.53 83.23h5.65" stroke="#000" stroke-width="1.4" fill="none"/>
<path d="M479.00 118.09V131.18M476.18 118.09h5.65M476.18 131.18h5.65" stroke="#000" stroke-width="1.4" fill="none"/>
<path d="M484.65 72.27V77.18M481.82 72.27h5.65M481.82 77.18h5.65" stroke="#000" stroke-width="1.4" fill="none"/>
<path d="M504.68 122.18V132.00M501.86 122.18h5.65M501.86 132.00h5.65" stroke="#000" stroke-width="1.4" fill="none"/>
<path d="M510.33 80.94V98.61M507.51 80.94h5.65M507.51 98.61h5.65" stroke="#000" stroke-width="1.4" fill="none"/>
<path d="M521.63 139.03V158.67M518.80 139.03h5.65M518.80 158.67h5.65" stroke="#000" stroke-width="1.4" fill="none"/>
<path d="M541.66 3.37V5.66M538.84 3.37h5.65M538.84 5.66h5.65" stroke="#000" stroke-width="1.4" fill="none"/>
<path d="M547.31 6.97V9.26M544.48 6.97h5.65M544.48 9.26h5.65" stroke="#000" stroke-width="1.4" fill="none"/>
<path d="M552.96 3.37V5.66M550.13 3.37h5.65M550.13 5.66h5.65" stroke="#000" stroke-width="1.4" fill="none"/>
<path d="M558.60 36.76V41.34M555.78 36.76h5.65M555.78 41.34h5.65" stroke="#000" stroke-width="1.4" fill="none"/>
<path d="M578.64 45.27V55.08M575.81 45.27h5.65M575.81 55.08h5.65" stroke="#000" stroke-width="1.4" fill="none"/>
<path d="M584.29 28.90V51.81M581.46 28.90h5.65M581.46 51.81h5.65" stroke="#000" stroke-width="1.4" fill="none"/>
<path d="M589.93 68.18V87.81M587.11 68.18h5.65M587.11 87.81h5.65" stroke="#000" stroke-width="1.4" fill="none"/>
<path d="M595.58 71.45V81.27M592.76 71.45h5.65M592.76 81.27h5.65" stroke="#000" stroke-width="1.4" fill="none"/>
</g>
<clipPath id="clipsa"><rect x="87.90" y="1.90" width="517.70" height="185.10"/></clipPath>
<g clip-path="url(#clipsa)">
<polygon points="106.39,97.66 108.74,103.72 115.23,104.09 110.19,108.20 111.86,114.48 106.39,110.96 100.92,114.48 102.59,108.20 97.54,104.09 104.04,103.72" fill="#f28522"/>
<polygon points="143.37,55.60 145.72,61.67 152.21,62.03 147.17,66.14 148.83,72.43 143.37,68.90 137.90,72.43 139.56,66.14 134.52,62.03 141.02,61.67" fill="#f28522"/>
<polygon points="180.35,117.79 182.70,123.85 189.19,124.21 184.15,128.32 185.81,134.61 180.35,131.09 174.88,134.61 176.54,128.32 171.50,124.21 178.00,123.85" fill="#f28522"/>
<path d="M217.33 91.09V107.45M212.73 91.09h9.20M212.73 107.45h9.20" stroke="#f28522" stroke-width="1.5" fill="none"/>
<polygon points="217.33,89.97 219.68,96.03 226.17,96.39 221.13,100.50 222.79,106.79 217.33,103.27 211.86,106.79 213.52,100.50 208.48,96.39 214.97,96.03" fill="#f28522"/>
<polygon points="254.30,176.70 256.65,182.76 263.15,183.13 258.11,187.24 259.77,193.52 254.30,190.00 248.84,193.52 250.50,187.24 245.46,183.13 251.95,182.76" fill="#f28522"/>
<polygon points="291.28,31.38 293.63,37.45 300.13,37.81 295.09,41.92 296.75,48.21 291.28,44.68 285.82,48.21 287.48,41.92 282.44,37.81 288.93,37.45" fill="#f28522"/>
<polygon points="328.26,-8.71 330.61,-2.64 337.11,-2.28 332.06,1.83 333.73,8.11 328.26,4.59 322.79,8.11 324.46,1.83 319.42,-2.28 325.91,-2.64" fill="#f28522"/>
<polygon points="365.24,100.61 367.59,106.67 374.08,107.03 369.04,111.14 370.71,117.43 365.24,113.90 359.77,117.43 361.44,111.14 356.39,107.03 362.89,106.67" fill="#f28522"/>
<polygon points="402.22,176.70 404.57,182.76 411.06,183.13 406.02,187.24 407.68,193.52 402.22,190.00 396.75,193.52 398.41,187.24 393.37,183.13 399.87,182.76" fill="#f28522"/>
<polygon points="439.20,92.10 441.55,98.16 448.04,98.52 443.00,102.63 444.66,108.92 439.20,105.39 433.73,108.92 435.39,102.63 430.35,98.52 436.85,98.16" fill="#f28522"/>
<polygon points="476.18,176.70 478.53,182.76 485.02,183.13 479.98,187.24 481.64,193.52 476.18,190.00 470.71,193.52 472.37,187.24 467.33,183.13 473.82,182.76" fill="#f28522"/>
<path d="M513.15 92.72V118.91M508.55 92.72h9.20M508.55 118.91h9.20" stroke="#f28522" stroke-width="1.5" fill="none"/>
<polygon points="513.15,96.51 515.50,102.58 522.00,102.94 516.96,107.05 518.62,113.34 513.15,109.81 507.69,113.34 509.35,107.05 504.31,102.94 510.80,102.58" fill="#f28522"/>
<polygon points="550.13,32.69 552.48,38.76 558.98,39.12 553.94,43.23 555.60,49.52 550.13,45.99 544.67,49.52 546.33,43.23 541.29,39.12 547.78,38.76" fill="#f28522"/>
<polygon points="587.11,78.51 589.46,84.58 595.96,84.94 590.91,89.05 592.58,95.34 587.11,91.81 581.64,95.34 583.31,89.05 578.27,84.94 584.76,84.58" fill="#f28522"/>
</g>
<path d="M87.90 1.90V194.10M79.30 186.00H605.60M82.80 1.90H605.60V194.10M82.80 165.54h5.10M79.30 145.09h8.60M82.80 124.63h5.10M79.30 104.18h8.60M82.80 83.72h5.10M79.30 63.27h8.60M82.80 42.81h5.10M79.30 22.36h8.60M124.88 186.00v8.1M161.86 186.00v8.1M198.84 186.00v8.1M235.81 186.00v8.1M272.79 186.00v8.1M309.77 186.00v8.1M346.75 186.00v8.1M383.73 186.00v8.1M420.71 186.00v8.1M457.69 186.00v8.1M494.66 186.00v8.1M531.64 186.00v8.1M568.62 186.00v8.1" stroke="#000" stroke-width="1.5" fill="none"/>
<text x="73" y="191.70" text-anchor="end" font-size="17.3">0%</text>
<text x="73" y="150.79" text-anchor="end" font-size="17.3">25%</text>
<text x="73" y="109.88" text-anchor="end" font-size="17.3">50%</text>
<text x="73" y="68.97" text-anchor="end" font-size="17.3">75%</text>
<text x="73" y="28.06" text-anchor="end" font-size="17.3">100%</text>
<text x="106.39" y="204.80" text-anchor="middle" font-size="17.3">Sc</text>
<text x="143.37" y="204.80" text-anchor="middle" font-size="17.3">Y</text>
<text x="180.35" y="204.80" text-anchor="middle" font-size="17.3">La</text>
<text x="217.33" y="204.80" text-anchor="middle" font-size="17.3">Ce</text>
<text x="254.30" y="204.80" text-anchor="middle" font-size="17.3">Pr</text>
<text x="291.28" y="204.80" text-anchor="middle" font-size="17.3">Nd</text>
<text x="328.26" y="204.80" text-anchor="middle" font-size="17.3">Sm</text>
<text x="365.24" y="204.80" text-anchor="middle" font-size="17.3">Eu</text>
<text x="402.22" y="204.80" text-anchor="middle" font-size="17.3">Tb</text>
<text x="439.20" y="204.80" text-anchor="middle" font-size="17.3">Dy</text>
<text x="476.18" y="204.80" text-anchor="middle" font-size="17.3">Ho</text>
<text x="513.15" y="204.80" text-anchor="middle" font-size="17.3">Er</text>
<text x="550.13" y="204.80" text-anchor="middle" font-size="17.3">Yb</text>
<text x="589.51" y="204.80" text-anchor="middle" font-size="17.3">Sum</text>
<text transform="translate(15.70,93.95) rotate(-90)" text-anchor="middle" font-size="17.3" font-weight="bold"><tspan font-style="italic">L</tspan>%</text>
<text x="579.30" y="21.50" font-size="17" font-weight="bold">a)</text>
<clipPath id="clipb"><rect x="87.90" y="217.80" width="517.70" height="185.10"/></clipPath>
<g clip-path="url(#clipb)">
<rect x="95.65" y="239.40" width="6.08" height="164.50" fill="#48f416"/><rect x="95.65" y="239.40" width="6.08" height="164.50" fill="none" stroke="#000" stroke-width="1.4"/>
<rect x="101.73" y="244.80" width="6.08" height="159.10" fill="#87defa"/><path d="M101.73 245.40L102.53 244.80M101.73 254.10L107.81 249.54M101.73 262.80L107.81 258.24M101.73 271.50L107.81 266.94M101.73 280.20L107.81 275.64M101.73 288.90L107.81 284.34M101.73 297.60L107.81 293.04M101.73 306.30L107.81 301.74M101.73 315.00L107.81 310.44M101.73 323.70L107.81 319.14M101.73 332.40L107.81 327.84M101.73 341.10L107.81 336.54M101.73 349.80L107.81 345.24M101.73 358.50L107.81 353.94M101.73 367.20L107.81 362.64M101.73 375.90L107.81 371.34M101.73 384.60L107.81 380.04M101.73 393.30L107.81 388.74M101.73 402.00L107.81 397.44" stroke="#000" stroke-width="1.55" fill="none"/><rect x="101.73" y="244.80" width="6.08" height="159.10" fill="none" stroke="#000" stroke-width="1.4"/>
<rect x="107.81" y="254.62" width="6.08" height="149.28" fill="#c86efa"/><path d="M107.81 256.27h6.08M107.81 262.47h6.08M107.81 268.67h6.08M107.81 274.87h6.08M107.81 281.07h6.08M107.81 287.27h6.08M107.81 293.47h6.08M107.81 299.67h6.08M107.81 305.87h6.08M107.81 312.07h6.08M107.81 318.27h6.08M107.81 324.47h6.08M107.81 330.67h6.08M107.81 336.87h6.08M107.81 343.07h6.08M107.81 349.27h6.08M107.81 355.47h6.08M107.81 361.67h6.08M107.81 367.87h6.08M107.81 374.07h6.08M107.81 380.27h6.08M107.81 386.47h6.08M107.81 392.67h6.08M107.81 398.87h6.08" stroke="#000" stroke-width="1.55" fill="none"/><rect x="107.81" y="254.62" width="6.08" height="149.28" fill="none" stroke="#000" stroke-width="1.4"/>
<rect x="113.89" y="252.00" width="6.08" height="151.90" fill="#80621e"/><path d="M113.89 252.60L119.98 257.16M113.89 261.30L119.98 265.86M113.89 270.00L119.98 274.56M113.89 278.70L119.98 283.26M113.89 287.40L119.98 291.96M113.89 296.10L119.98 300.66M113.89 304.80L119.98 309.36M113.89 313.50L119.98 318.06M113.89 322.20L119.98 326.76M113.89 330.90L119.98 335.46M113.89 339.60L119.98 344.16M113.89 348.30L119.98 352.86M113.89 357.00L119.98 361.56M113.89 365.70L119.98 370.26M113.89 374.40L119.98 378.96M113.89 383.10L119.98 387.66M113.89 391.80L119.98 396.36M113.89 400.50L118.43 403.90" stroke="#000" stroke-width="1.55" fill="none"/><rect x="113.89" y="252.00" width="6.08" height="151.90" fill="none" stroke="#000" stroke-width="1.4"/>
<rect x="135.47" y="268.20" width="6.08" height="135.70" fill="#48f416"/><rect x="135.47" y="268.20" width="6.08" height="135.70" fill="none" stroke="#000" stroke-width="1.4"/>
<rect x="141.55" y="268.53" width="6.08" height="135.37" fill="#87defa"/><path d="M141.55 269.13L142.35 268.53M141.55 277.83L147.63 273.27M141.55 286.53L147.63 281.97M141.55 295.23L147.63 290.67M141.55 303.93L147.63 299.37M141.55 312.63L147.63 308.07M141.55 321.33L147.63 316.77M141.55 330.03L147.63 325.47M141.55 338.73L147.63 334.17M141.55 347.43L147.63 342.87M141.55 356.13L147.63 351.57M141.55 364.83L147.63 360.27M141.55 373.53L147.63 368.97M141.55 382.23L147.63 377.67M141.55 390.93L147.63 386.37M141.55 399.63L147.63 395.07M147.46 403.90L147.63 403.77" stroke="#000" stroke-width="1.55" fill="none"/><rect x="141.55" y="268.53" width="6.08" height="135.37" fill="none" stroke="#000" stroke-width="1.4"/>
<rect x="147.63" y="271.31" width="6.08" height="132.59" fill="#c86efa"/><path d="M147.63 272.96h6.08M147.63 279.16h6.08M147.63 285.36h6.08M147.63 291.56h6.08M147.63 297.76h6.08M147.63 303.96h6.08M147.63 310.16h6.08M147.63 316.36h6.08M147.63 322.56h6.08M147.63 328.76h6.08M147.63 334.96h6.08M147.63 341.16h6.08M147.63 347.36h6.08M147.63 353.56h6.08M147.63 359.76h6.08M147.63 365.96h6.08M147.63 372.16h6.08M147.63 378.36h6.08M147.63 384.56h6.08M147.63 390.76h6.08M147.63 396.96h6.08M147.63 403.16h6.08" stroke="#000" stroke-width="1.55" fill="none"/><rect x="147.63" y="271.31" width="6.08" height="132.59" fill="none" stroke="#000" stroke-width="1.4"/>
<rect x="153.72" y="279.33" width="6.08" height="124.57" fill="#80621e"/><path d="M153.72 279.93L159.80 284.49M153.72 288.63L159.80 293.19M153.72 297.33L159.80 301.89M153.72 306.03L159.80 310.59M153.72 314.73L159.80 319.29M153.72 323.43L159.80 327.99M153.72 332.13L159.80 336.69M153.72 340.83L159.80 345.39M153.72 349.53L159.80 354.09M153.72 358.23L159.80 362.79M153.72 366.93L159.80 371.49M153.72 375.63L159.80 380.19M153.72 384.33L159.80 388.89M153.72 393.03L159.80 397.59M153.72 401.73L156.61 403.90" stroke="#000" stroke-width="1.55" fill="none"/><rect x="153.72" y="279.33" width="6.08" height="124.57" fill="none" stroke="#000" stroke-width="1.4"/>
<rect x="187.46" y="358.21" width="6.08" height="45.69" fill="#c86efa"/><path d="M187.46 359.86h6.08M187.46 366.06h6.08M187.46 372.26h6.08M187.46 378.46h6.08M187.46 384.66h6.08M187.46 390.86h6.08M187.46 397.06h6.08M187.46 403.26h6.08" stroke="#000" stroke-width="1.55" fill="none"/><rect x="187.46" y="358.21" width="6.08" height="45.69" fill="none" stroke="#000" stroke-width="1.4"/>
<rect x="193.54" y="340.04" width="6.08" height="63.86" fill="#80621e"/><path d="M193.54 340.64L199.62 345.20M193.54 349.34L199.62 353.90M193.54 358.04L199.62 362.60M193.54 366.74L199.62 371.30M193.54 375.44L199.62 380.00M193.54 384.14L199.62 388.70M193.54 392.84L199.62 397.40M193.54 401.54L196.68 403.90" stroke="#000" stroke-width="1.55" fill="none"/><rect x="193.54" y="340.04" width="6.08" height="63.86" fill="none" stroke="#000" stroke-width="1.4"/>
<rect x="215.11" y="232.53" width="6.08" height="171.37" fill="#48f416"/><rect x="215.11" y="232.53" width="6.08" height="171.37" fill="none" stroke="#000" stroke-width="1.4"/>
<rect x="221.20" y="237.27" width="6.08" height="166.63" fill="#87defa"/><path d="M221.20 237.87L222.00 237.27M221.20 246.57L227.28 242.01M221.20 255.27L227.28 250.71M221.20 263.97L227.28 259.41M221.20 272.67L227.28 268.11M221.20 281.37L227.28 276.81M221.20 290.07L227.28 285.51M221.20 298.77L227.28 294.21M221.20 307.47L227.28 302.91M221.20 316.17L227.28 311.61M221.20 324.87L227.28 320.31M221.20 333.57L227.28 329.01M221.20 342.27L227.28 337.71M221.20 350.97L227.28 346.41M221.20 359.67L227.28 355.11M221.20 368.37L227.28 363.81M221.20 377.07L227.28 372.51M221.20 385.77L227.28 381.21M221.20 394.47L227.28 389.91M221.20 403.17L227.28 398.61" stroke="#000" stroke-width="1.55" fill="none"/><rect x="221.20" y="237.27" width="6.08" height="166.63" fill="none" stroke="#000" stroke-width="1.4"/>
<rect x="227.28" y="308.46" width="6.08" height="95.44" fill="#c86efa"/><path d="M227.28 310.11h6.08M227.28 316.31h6.08M227.28 322.51h6.08M227.28 328.71h6.08M227.28 334.91h6.08M227.28 341.11h6.08M227.28 347.31h6.08M227.28 353.51h6.08M227.28 359.71h6.08M227.28 365.91h6.08M227.28 372.11h6.08M227.28 378.31h6.08M227.28 384.51h6.08M227.28 390.71h6.08M227.28 396.91h6.08M227.28 403.11h6.08" stroke="#000" stroke-width="1.55" fill="none"/><rect x="227.28" y="308.46" width="6.08" height="95.44" fill="none" stroke="#000" stroke-width="1.4"/>
<rect x="233.36" y="243.98" width="6.08" height="159.92" fill="#80621e"/><path d="M233.36 244.58L239.45 249.15M233.36 253.28L239.45 257.85M233.36 261.98L239.45 266.55M233.36 270.68L239.45 275.25M233.36 279.38L239.45 283.95M233.36 288.08L239.45 292.65M233.36 296.78L239.45 301.35M233.36 305.48L239.45 310.05M233.36 314.18L239.45 318.75M233.36 322.88L239.45 327.45M233.36 331.58L239.45 336.15M233.36 340.28L239.45 344.85M233.36 348.98L239.45 353.55M233.36 357.68L239.45 362.25M233.36 366.38L239.45 370.95M233.36 375.08L239.45 379.65M233.36 383.78L239.45 388.35M233.36 392.48L239.45 397.05M233.36 401.18L236.99 403.90" stroke="#000" stroke-width="1.55" fill="none"/><rect x="233.36" y="243.98" width="6.08" height="159.92" fill="none" stroke="#000" stroke-width="1.4"/>
<rect x="254.94" y="205.53" width="6.08" height="198.37" fill="#48f416"/><rect x="254.94" y="205.53" width="6.08" height="198.37" fill="none" stroke="#000" stroke-width="1.4"/>
<rect x="261.02" y="379.64" width="6.08" height="24.26" fill="#87defa"/><path d="M261.02 380.24L261.82 379.64M261.02 388.94L267.10 384.38M261.02 397.64L267.10 393.08M264.28 403.90L267.10 401.78" stroke="#000" stroke-width="1.55" fill="none"/><rect x="261.02" y="379.64" width="6.08" height="24.26" fill="none" stroke="#000" stroke-width="1.4"/>
<rect x="267.10" y="234.98" width="6.08" height="168.92" fill="#c86efa"/><path d="M267.10 236.63h6.08M267.10 242.83h6.08M267.10 249.03h6.08M267.10 255.23h6.08M267.10 261.43h6.08M267.10 267.63h6.08M267.10 273.83h6.08M267.10 280.03h6.08M267.10 286.23h6.08M267.10 292.43h6.08M267.10 298.63h6.08M267.10 304.83h6.08M267.10 311.03h6.08M267.10 317.23h6.08M267.10 323.43h6.08M267.10 329.63h6.08M267.10 335.83h6.08M267.10 342.03h6.08M267.10 348.23h6.08M267.10 354.43h6.08M267.10 360.63h6.08M267.10 366.83h6.08M267.10 373.03h6.08M267.10 379.23h6.08M267.10 385.43h6.08M267.10 391.63h6.08M267.10 397.83h6.08" stroke="#000" stroke-width="1.55" fill="none"/><rect x="267.10" y="234.98" width="6.08" height="168.92" fill="none" stroke="#000" stroke-width="1.4"/>
<rect x="273.19" y="271.31" width="6.08" height="132.59" fill="#80621e"/><path d="M273.19 271.91L279.27 276.47M273.19 280.61L279.27 285.17M273.19 289.31L279.27 293.87M273.19 298.01L279.27 302.57M273.19 306.71L279.27 311.27M273.19 315.41L279.27 319.97M273.19 324.11L279.27 328.67M273.19 332.81L279.27 337.37M273.19 341.51L279.27 346.07M273.19 350.21L279.27 354.77M273.19 358.91L279.27 363.47M273.19 367.61L279.27 372.17M273.19 376.31L279.27 380.87M273.19 385.01L279.27 389.57M273.19 393.71L279.27 398.27M273.19 402.41L275.17 403.90" stroke="#000" stroke-width="1.55" fill="none"/><rect x="273.19" y="271.31" width="6.08" height="132.59" fill="none" stroke="#000" stroke-width="1.4"/>
<rect x="294.76" y="227.13" width="6.08" height="176.77" fill="#48f416"/><rect x="294.76" y="227.13" width="6.08" height="176.77" fill="none" stroke="#000" stroke-width="1.4"/>
<rect x="300.84" y="251.02" width="6.08" height="152.88" fill="#87defa"/><path d="M300.84 251.62L301.64 251.02M300.84 260.32L306.93 255.76M300.84 269.02L306.93 264.46M300.84 277.72L306.93 273.16M300.84 286.42L306.93 281.86M300.84 295.12L306.93 290.56M300.84 303.82L306.93 299.26M300.84 312.52L306.93 307.96M300.84 321.22L306.93 316.66M300.84 329.92L306.93 325.36M300.84 338.62L306.93 334.06M300.84 347.32L306.93 342.76M300.84 356.02L306.93 351.46M300.84 364.72L306.93 360.16M300.84 373.42L306.93 368.86M300.84 382.12L306.93 377.56M300.84 390.82L306.93 386.26M300.84 399.52L306.93 394.96M306.60 403.90L306.93 403.66" stroke="#000" stroke-width="1.55" fill="none"/><rect x="300.84" y="251.02" width="6.08" height="152.88" fill="none" stroke="#000" stroke-width="1.4"/>
<rect x="306.93" y="252.49" width="6.08" height="151.41" fill="#c86efa"/><path d="M306.93 254.14h6.08M306.93 260.34h6.08M306.93 266.54h6.08M306.93 272.74h6.08M306.93 278.94h6.08M306.93 285.14h6.08M306.93 291.34h6.08M306.93 297.54h6.08M306.93 303.74h6.08M306.93 309.94h6.08M306.93 316.14h6.08M306.93 322.34h6.08M306.93 328.54h6.08M306.93 334.74h6.08M306.93 340.94h6.08M306.93 347.14h6.08M306.93 353.34h6.08M306.93 359.54h6.08M306.93 365.74h6.08M306.93 371.94h6.08M306.93 378.14h6.08M306.93 384.34h6.08M306.93 390.54h6.08M306.93 396.74h6.08M306.93 402.94h6.08" stroke="#000" stroke-width="1.55" fill="none"/><rect x="306.93" y="252.49" width="6.08" height="151.41" fill="none" stroke="#000" stroke-width="1.4"/>
<rect x="313.01" y="271.80" width="6.08" height="132.10" fill="#80621e"/><path d="M313.01 272.40L319.09 276.96M313.01 281.10L319.09 285.66M313.01 289.80L319.09 294.36M313.01 298.50L319.09 303.06M313.01 307.20L319.09 311.76M313.01 315.90L319.09 320.46M313.01 324.60L319.09 329.16M313.01 333.30L319.09 337.86M313.01 342.00L319.09 346.56M313.01 350.70L319.09 355.26M313.01 359.40L319.09 363.96M313.01 368.10L319.09 372.66M313.01 376.80L319.09 381.36M313.01 385.50L319.09 390.06M313.01 394.20L319.09 398.76M313.01 402.90L314.34 403.90" stroke="#000" stroke-width="1.55" fill="none"/><rect x="313.01" y="271.80" width="6.08" height="132.10" fill="none" stroke="#000" stroke-width="1.4"/>
<rect x="374.41" y="238.26" width="6.08" height="165.64" fill="#48f416"/><rect x="374.41" y="238.26" width="6.08" height="165.64" fill="none" stroke="#000" stroke-width="1.4"/>
<rect x="380.49" y="257.89" width="6.08" height="146.01" fill="#87defa"/><path d="M380.49 258.49L381.29 257.89M380.49 267.19L386.57 262.63M380.49 275.89L386.57 271.33M380.49 284.59L386.57 280.03M380.49 293.29L386.57 288.73M380.49 301.99L386.57 297.43M380.49 310.69L386.57 306.13M380.49 319.39L386.57 314.83M380.49 328.09L386.57 323.53M380.49 336.79L386.57 332.23M380.49 345.49L386.57 340.93M380.49 354.19L386.57 349.63M380.49 362.89L386.57 358.33M380.49 371.59L386.57 367.03M380.49 380.29L386.57 375.73M380.49 388.99L386.57 384.43M380.49 397.69L386.57 393.13M383.81 403.90L386.57 401.83" stroke="#000" stroke-width="1.55" fill="none"/><rect x="380.49" y="257.89" width="6.08" height="146.01" fill="none" stroke="#000" stroke-width="1.4"/>
<rect x="386.57" y="250.37" width="6.08" height="153.53" fill="#c86efa"/><path d="M386.57 252.02h6.08M386.57 258.22h6.08M386.57 264.42h6.08M386.57 270.62h6.08M386.57 276.82h6.08M386.57 283.02h6.08M386.57 289.22h6.08M386.57 295.42h6.08M386.57 301.62h6.08M386.57 307.82h6.08M386.57 314.02h6.08M386.57 320.22h6.08M386.57 326.42h6.08M386.57 332.62h6.08M386.57 338.82h6.08M386.57 345.02h6.08M386.57 351.22h6.08M386.57 357.42h6.08M386.57 363.62h6.08M386.57 369.82h6.08M386.57 376.02h6.08M386.57 382.22h6.08M386.57 388.42h6.08M386.57 394.62h6.08M386.57 400.82h6.08" stroke="#000" stroke-width="1.55" fill="none"/><rect x="386.57" y="250.37" width="6.08" height="153.53" fill="none" stroke="#000" stroke-width="1.4"/>
<rect x="392.66" y="263.13" width="6.08" height="140.77" fill="#80621e"/><path d="M392.66 263.73L398.74 268.29M392.66 272.43L398.74 276.99M392.66 281.13L398.74 285.69M392.66 289.83L398.74 294.39M392.66 298.53L398.74 303.09M392.66 307.23L398.74 311.79M392.66 315.93L398.74 320.49M392.66 324.63L398.74 329.19M392.66 333.33L398.74 337.89M392.66 342.03L398.74 346.59M392.66 350.73L398.74 355.29M392.66 359.43L398.74 363.99M392.66 368.13L398.74 372.69M392.66 376.83L398.74 381.39M392.66 385.53L398.74 390.09M392.66 394.23L398.74 398.79M392.66 402.93L393.95 403.90" stroke="#000" stroke-width="1.55" fill="none"/><rect x="392.66" y="263.13" width="6.08" height="140.77" fill="none" stroke="#000" stroke-width="1.4"/>
<rect x="414.23" y="205.53" width="6.08" height="198.37" fill="#48f416"/><rect x="414.23" y="205.53" width="6.08" height="198.37" fill="none" stroke="#000" stroke-width="1.4"/>
<rect x="420.31" y="208.72" width="6.08" height="195.18" fill="#87defa"/><path d="M420.31 209.32L421.11 208.72M420.31 218.02L426.40 213.46M420.31 226.72L426.40 222.16M420.31 235.42L426.40 230.86M420.31 244.12L426.40 239.56M420.31 252.82L426.40 248.26M420.31 261.52L426.40 256.96M420.31 270.22L426.40 265.66M420.31 278.92L426.40 274.36M420.31 287.62L426.40 283.06M420.31 296.32L426.40 291.76M420.31 305.02L426.40 300.46M420.31 313.72L426.40 309.16M420.31 322.42L426.40 317.86M420.31 331.12L426.40 326.56M420.31 339.82L426.40 335.26M420.31 348.52L426.40 343.96M420.31 357.22L426.40 352.66M420.31 365.92L426.40 361.36M420.31 374.62L426.40 370.06M420.31 383.32L426.40 378.76M420.31 392.02L426.40 387.46M420.31 400.72L426.40 396.16" stroke="#000" stroke-width="1.55" fill="none"/><rect x="420.31" y="208.72" width="6.08" height="195.18" fill="none" stroke="#000" stroke-width="1.4"/>
<rect x="426.40" y="205.53" width="6.08" height="198.37" fill="#c86efa"/><path d="M426.40 207.18h6.08M426.40 213.38h6.08M426.40 219.58h6.08M426.40 225.78h6.08M426.40 231.98h6.08M426.40 238.18h6.08M426.40 244.38h6.08M426.40 250.58h6.08M426.40 256.78h6.08M426.40 262.98h6.08M426.40 269.18h6.08M426.40 275.38h6.08M426.40 281.58h6.08M426.40 287.78h6.08M426.40 293.98h6.08M426.40 300.18h6.08M426.40 306.38h6.08M426.40 312.58h6.08M426.40 318.78h6.08M426.40 324.98h6.08M426.40 331.18h6.08M426.40 337.38h6.08M426.40 343.58h6.08M426.40 349.78h6.08M426.40 355.98h6.08M426.40 362.18h6.08M426.40 368.38h6.08M426.40 374.58h6.08M426.40 380.78h6.08M426.40 386.98h6.08M426.40 393.18h6.08M426.40 399.38h6.08" stroke="#000" stroke-width="1.55" fill="none"/><rect x="426.40" y="205.53" width="6.08" height="198.37" fill="none" stroke="#000" stroke-width="1.4"/>
<rect x="432.48" y="205.53" width="6.08" height="198.37" fill="#80621e"/><path d="M432.48 206.13L438.56 210.69M432.48 214.83L438.56 219.39M432.48 223.53L438.56 228.09M432.48 232.23L438.56 236.79M432.48 240.93L438.56 245.49M432.48 249.63L438.56 254.19M432.48 258.33L438.56 262.89M432.48 267.03L438.56 271.59M432.48 275.73L438.56 280.29M432.48 284.43L438.56 288.99M432.48 293.13L438.56 297.69M432.48 301.83L438.56 306.39M432.48 310.53L438.56 315.09M432.48 319.23L438.56 323.79M432.48 327.93L438.56 332.49M432.48 336.63L438.56 341.19M432.48 345.33L438.56 349.89M432.48 354.03L438.56 358.59M432.48 362.73L438.56 367.29M432.48 371.43L438.56 375.99M432.48 380.13L438.56 384.69M432.48 388.83L438.56 393.39M432.48 397.53L438.56 402.09" stroke="#000" stroke-width="1.55" fill="none"/><rect x="432.48" y="205.53" width="6.08" height="198.37" fill="none" stroke="#000" stroke-width="1.4"/>
<rect x="454.05" y="266.08" width="6.08" height="137.82" fill="#48f416"/><rect x="454.05" y="266.08" width="6.08" height="137.82" fill="none" stroke="#000" stroke-width="1.4"/>
<rect x="460.14" y="266.08" width="6.08" height="137.82" fill="#87defa"/><path d="M460.14 266.68L460.94 266.08M460.14 275.38L466.22 270.81M460.14 284.08L466.22 279.51M460.14 292.78L466.22 288.21M460.14 301.48L466.22 296.91M460.14 310.18L466.22 305.61M460.14 318.88L466.22 314.31M460.14 327.58L466.22 323.01M460.14 336.28L466.22 331.71M460.14 344.98L466.22 340.41M460.14 353.68L466.22 349.11M460.14 362.38L466.22 357.81M460.14 371.08L466.22 366.51M460.14 379.78L466.22 375.21M460.14 388.48L466.22 383.91M460.14 397.18L466.22 392.61M462.77 403.90L466.22 401.31" stroke="#000" stroke-width="1.55" fill="none"/><rect x="460.14" y="266.08" width="6.08" height="137.82" fill="none" stroke="#000" stroke-width="1.4"/>
<rect x="466.22" y="287.35" width="6.08" height="116.55" fill="#c86efa"/><path d="M466.22 289.00h6.08M466.22 295.20h6.08M466.22 301.40h6.08M466.22 307.60h6.08M466.22 313.80h6.08M466.22 320.00h6.08M466.22 326.20h6.08M466.22 332.40h6.08M466.22 338.60h6.08M466.22 344.80h6.08M466.22 351.00h6.08M466.22 357.20h6.08M466.22 363.40h6.08M466.22 369.60h6.08M466.22 375.80h6.08M466.22 382.00h6.08M466.22 388.20h6.08M466.22 394.40h6.08M466.22 400.60h6.08" stroke="#000" stroke-width="1.55" fill="none"/><rect x="466.22" y="287.35" width="6.08" height="116.55" fill="none" stroke="#000" stroke-width="1.4"/>
<rect x="472.30" y="330.71" width="6.08" height="73.19" fill="#80621e"/><path d="M472.30 331.31L478.39 335.88M472.30 340.01L478.39 344.58M472.30 348.71L478.39 353.28M472.30 357.41L478.39 361.98M472.30 366.11L478.39 370.68M472.30 374.81L478.39 379.38M472.30 383.51L478.39 388.08M472.30 392.21L478.39 396.78M472.30 400.91L476.28 403.90" stroke="#000" stroke-width="1.55" fill="none"/><rect x="472.30" y="330.71" width="6.08" height="73.19" fill="none" stroke="#000" stroke-width="1.4"/>
<rect x="493.88" y="232.36" width="6.08" height="171.54" fill="#48f416"/><rect x="493.88" y="232.36" width="6.08" height="171.54" fill="none" stroke="#000" stroke-width="1.4"/>
<rect x="499.96" y="208.80" width="6.08" height="195.10" fill="#87defa"/><path d="M499.96 209.40L500.76 208.80M499.96 218.10L506.04 213.54M499.96 226.80L506.04 222.24M499.96 235.50L506.04 230.94M499.96 244.20L506.04 239.64M499.96 252.90L506.04 248.34M499.96 261.60L506.04 257.04M499.96 270.30L506.04 265.74M499.96 279.00L506.04 274.44M499.96 287.70L506.04 283.14M499.96 296.40L506.04 291.84M499.96 305.10L506.04 300.54M499.96 313.80L506.04 309.24M499.96 322.50L506.04 317.94M499.96 331.20L506.04 326.64M499.96 339.90L506.04 335.34M499.96 348.60L506.04 344.04M499.96 357.30L506.04 352.74M499.96 366.00L506.04 361.44M499.96 374.70L506.04 370.14M499.96 383.40L506.04 378.84M499.96 392.10L506.04 387.54M499.96 400.80L506.04 396.24" stroke="#000" stroke-width="1.55" fill="none"/><rect x="499.96" y="208.80" width="6.08" height="195.10" fill="none" stroke="#000" stroke-width="1.4"/>
<rect x="506.04" y="238.75" width="6.08" height="165.15" fill="#c86efa"/><path d="M506.04 240.40h6.08M506.04 246.60h6.08M506.04 252.80h6.08M506.04 259.00h6.08M506.04 265.20h6.08M506.04 271.40h6.08M506.04 277.60h6.08M506.04 283.80h6.08M506.04 290.00h6.08M506.04 296.20h6.08M506.04 302.40h6.08M506.04 308.60h6.08M506.04 314.80h6.08M506.04 321.00h6.08M506.04 327.20h6.08M506.04 333.40h6.08M506.04 339.60h6.08M506.04 345.80h6.08M506.04 352.00h6.08M506.04 358.20h6.08M506.04 364.40h6.08M506.04 370.60h6.08M506.04 376.80h6.08M506.04 383.00h6.08M506.04 389.20h6.08M506.04 395.40h6.08M506.04 401.60h6.08" stroke="#000" stroke-width="1.55" fill="none"/><rect x="506.04" y="238.75" width="6.08" height="165.15" fill="none" stroke="#000" stroke-width="1.4"/>
<rect x="512.13" y="223.20" width="6.08" height="180.70" fill="#80621e"/><path d="M512.13 223.80L518.21 228.36M512.13 232.50L518.21 237.06M512.13 241.20L518.21 245.76M512.13 249.90L518.21 254.46M512.13 258.60L518.21 263.16M512.13 267.30L518.21 271.86M512.13 276.00L518.21 280.56M512.13 284.70L518.21 289.26M512.13 293.40L518.21 297.96M512.13 302.10L518.21 306.66M512.13 310.80L518.21 315.36M512.13 319.50L518.21 324.06M512.13 328.20L518.21 332.76M512.13 336.90L518.21 341.46M512.13 345.60L518.21 350.16M512.13 354.30L518.21 358.86M512.13 363.00L518.21 367.56M512.13 371.70L518.21 376.26M512.13 380.40L518.21 384.96M512.13 389.10L518.21 393.66M512.13 397.80L518.21 402.36" stroke="#000" stroke-width="1.55" fill="none"/><rect x="512.13" y="223.20" width="6.08" height="180.70" fill="none" stroke="#000" stroke-width="1.4"/>
<rect x="533.70" y="380.79" width="6.08" height="23.11" fill="#48f416"/><rect x="533.70" y="380.79" width="6.08" height="23.11" fill="none" stroke="#000" stroke-width="1.4"/>
<rect x="539.78" y="374.24" width="6.08" height="29.66" fill="#87defa"/><path d="M539.78 374.84L540.58 374.24M539.78 383.54L545.87 378.98M539.78 392.24L545.87 387.68M539.78 400.94L545.87 396.38" stroke="#000" stroke-width="1.55" fill="none"/><rect x="539.78" y="374.24" width="6.08" height="29.66" fill="none" stroke="#000" stroke-width="1.4"/>
<rect x="551.95" y="272.62" width="6.08" height="131.28" fill="#80621e"/><path d="M551.95 273.22L558.03 277.78M551.95 281.92L558.03 286.48M551.95 290.62L558.03 295.18M551.95 299.32L558.03 303.88M551.95 308.02L558.03 312.58M551.95 316.72L558.03 321.28M551.95 325.42L558.03 329.98M551.95 334.12L558.03 338.68M551.95 342.82L558.03 347.38M551.95 351.52L558.03 356.08M551.95 360.22L558.03 364.78M551.95 368.92L558.03 373.48M551.95 377.62L558.03 382.18M551.95 386.32L558.03 390.88M551.95 395.02L558.03 399.58M551.95 403.72L552.19 403.90" stroke="#000" stroke-width="1.55" fill="none"/><rect x="551.95" y="272.62" width="6.08" height="131.28" fill="none" stroke="#000" stroke-width="1.4"/>
<rect x="573.52" y="338.08" width="6.08" height="65.82" fill="#48f416"/><rect x="573.52" y="338.08" width="6.08" height="65.82" fill="none" stroke="#000" stroke-width="1.4"/>
<rect x="579.61" y="305.68" width="6.08" height="98.22" fill="#87defa"/><path d="M579.61 306.28L580.41 305.68M579.61 314.98L585.69 310.41M579.61 323.68L585.69 319.11M579.61 332.38L585.69 327.81M579.61 341.08L585.69 336.51M579.61 349.78L585.69 345.21M579.61 358.48L585.69 353.91M579.61 367.18L585.69 362.61M579.61 375.88L585.69 371.31M579.61 384.58L585.69 380.01M579.61 393.28L585.69 388.71M579.61 401.98L585.69 397.41" stroke="#000" stroke-width="1.55" fill="none"/><rect x="579.61" y="305.68" width="6.08" height="98.22" fill="none" stroke="#000" stroke-width="1.4"/>
<rect x="591.77" y="376.21" width="6.08" height="27.69" fill="#80621e"/><path d="M591.77 376.81L597.85 381.37M591.77 385.51L597.85 390.07M591.77 394.21L597.85 398.77M591.77 402.91L593.09 403.90" stroke="#000" stroke-width="1.55" fill="none"/><rect x="591.77" y="376.21" width="6.08" height="27.69" fill="none" stroke="#000" stroke-width="1.4"/>
<path d="M98.69 238.58V240.22M95.65 238.58h6.08M95.65 240.22h6.08" stroke="#000" stroke-width="1.4" fill="none"/>
<path d="M104.77 243.33V246.27M101.73 243.33h6.08M101.73 246.27h6.08" stroke="#000" stroke-width="1.4" fill="none"/>
<path d="M110.85 253.80V255.44M107.81 253.80h6.08M107.81 255.44h6.08" stroke="#000" stroke-width="1.4" fill="none"/>
<path d="M116.94 250.04V253.97M113.89 250.04h6.08M113.89 253.97h6.08" stroke="#000" stroke-width="1.4" fill="none"/>
<path d="M138.51 267.38V269.02M135.47 267.38h6.08M135.47 269.02h6.08" stroke="#000" stroke-width="1.4" fill="none"/>
<path d="M144.59 267.71V269.35M141.55 267.71h6.08M141.55 269.35h6.08" stroke="#000" stroke-width="1.4" fill="none"/>
<path d="M150.68 270.82V271.80M147.63 270.82h6.08M147.63 271.80h6.08" stroke="#000" stroke-width="1.4" fill="none"/>
<path d="M156.76 278.84V279.82M153.72 278.84h6.08M153.72 279.82h6.08" stroke="#000" stroke-width="1.4" fill="none"/>
<path d="M196.58 339.39V340.70M193.54 339.39h6.08M193.54 340.70h6.08" stroke="#000" stroke-width="1.4" fill="none"/>
<path d="M218.16 231.71V233.35M215.11 231.71h6.08M215.11 233.35h6.08" stroke="#000" stroke-width="1.4" fill="none"/>
<path d="M224.24 234.66V239.89M221.20 234.66h6.08M221.20 239.89h6.08" stroke="#000" stroke-width="1.4" fill="none"/>
<path d="M236.41 243.16V244.80M233.36 243.16h6.08M233.36 244.80h6.08" stroke="#000" stroke-width="1.4" fill="none"/>
<path d="M270.15 233.67V236.29M267.10 233.67h6.08M267.10 236.29h6.08" stroke="#000" stroke-width="1.4" fill="none"/>
<path d="M297.80 223.85V230.40M294.76 223.85h6.08M294.76 230.40h6.08" stroke="#000" stroke-width="1.4" fill="none"/>
<path d="M303.89 249.38V252.66M300.84 249.38h6.08M300.84 252.66h6.08" stroke="#000" stroke-width="1.4" fill="none"/>
<path d="M309.97 251.67V253.31M306.93 251.67h6.08M306.93 253.31h6.08" stroke="#000" stroke-width="1.4" fill="none"/>
<path d="M377.45 233.35V243.16M374.41 233.35h6.08M374.41 243.16h6.08" stroke="#000" stroke-width="1.4" fill="none"/>
<path d="M383.53 255.11V260.67M380.49 255.11h6.08M380.49 260.67h6.08" stroke="#000" stroke-width="1.4" fill="none"/>
<path d="M389.61 249.55V251.18M386.57 249.55h6.08M386.57 251.18h6.08" stroke="#000" stroke-width="1.4" fill="none"/>
<path d="M395.70 262.31V263.95M392.66 262.31h6.08M392.66 263.95h6.08" stroke="#000" stroke-width="1.4" fill="none"/>
<path d="M457.09 259.53V272.62M454.05 259.53h6.08M454.05 272.62h6.08" stroke="#000" stroke-width="1.4" fill="none"/>
<path d="M463.18 262.80V269.35M460.14 262.80h6.08M460.14 269.35h6.08" stroke="#000" stroke-width="1.4" fill="none"/>
<path d="M469.26 284.08V290.62M466.22 284.08h6.08M466.22 290.62h6.08" stroke="#000" stroke-width="1.4" fill="none"/>
<path d="M475.34 327.44V333.99M472.30 327.44h6.08M472.30 333.99h6.08" stroke="#000" stroke-width="1.4" fill="none"/>
<path d="M496.92 231.55V233.18M493.88 231.55h6.08M493.88 233.18h6.08" stroke="#000" stroke-width="1.4" fill="none"/>
<path d="M515.17 222.38V224.02M512.13 222.38h6.08M512.13 224.02h6.08" stroke="#000" stroke-width="1.4" fill="none"/>
<path d="M536.74 360.33V401.25M533.70 360.33h6.08M533.70 401.25h6.08" stroke="#000" stroke-width="1.4" fill="none"/>
<path d="M542.82 351.82V396.66M539.78 351.82h6.08M539.78 396.66h6.08" stroke="#000" stroke-width="1.4" fill="none"/>
<path d="M554.99 243.16V302.08M551.95 243.16h6.08M551.95 302.08h6.08" stroke="#000" stroke-width="1.4" fill="none"/>
<path d="M576.56 311.08V365.08M573.52 311.08h6.08M573.52 365.08h6.08" stroke="#000" stroke-width="1.4" fill="none"/>
<path d="M582.65 295.04V316.31M579.61 295.04h6.08M579.61 316.31h6.08" stroke="#000" stroke-width="1.4" fill="none"/>
<path d="M594.81 372.93V379.48M591.77 372.93h6.08M591.77 379.48h6.08" stroke="#000" stroke-width="1.4" fill="none"/>
</g>
<clipPath id="clipsb"><rect x="87.90" y="217.80" width="517.70" height="185.10"/></clipPath>
<g clip-path="url(#clipsb)">
<path d="M107.81 220.42V240.38M103.21 220.42h9.20M103.21 240.38h9.20" stroke="#f28522" stroke-width="1.5" fill="none"/>
<polygon points="107.81,221.10 110.16,227.17 116.66,227.53 111.61,231.64 113.28,237.92 107.81,234.40 102.35,237.92 104.01,231.64 98.97,227.53 105.46,227.17" fill="#f28522"/>
<polygon points="147.63,279.69 149.99,285.75 156.48,286.11 151.44,290.22 153.10,296.51 147.63,292.98 142.17,296.51 143.83,290.22 138.79,286.11 145.28,285.75" fill="#f28522"/>
<polygon points="187.46,382.78 189.81,388.85 196.30,389.21 191.26,393.32 192.92,399.61 187.46,396.08 181.99,399.61 183.65,393.32 178.61,389.21 185.11,388.85" fill="#f28522"/>
<path d="M227.28 253.97V266.40M222.68 253.97h9.20M222.68 266.40h9.20" stroke="#f28522" stroke-width="1.5" fill="none"/>
<polygon points="227.28,250.88 229.63,256.95 236.13,257.31 231.08,261.42 232.75,267.71 227.28,264.18 221.81,267.71 223.48,261.42 218.44,257.31 224.93,256.95" fill="#f28522"/>
<polygon points="267.10,378.53 269.45,384.59 275.95,384.95 270.91,389.06 272.57,395.35 267.10,391.83 261.64,395.35 263.30,389.06 258.26,384.95 264.75,384.59" fill="#f28522"/>
<polygon points="306.93,270.68 309.28,276.75 315.77,277.11 310.73,281.22 312.39,287.51 306.93,283.98 301.46,287.51 303.12,281.22 298.08,277.11 304.58,276.75" fill="#f28522"/>
<polygon points="386.57,275.76 388.92,281.82 395.42,282.18 390.38,286.29 392.04,292.58 386.57,289.06 381.11,292.58 382.77,286.29 377.73,282.18 384.22,281.82" fill="#f28522"/>
<path d="M466.22 333.17V349.53M461.62 333.17h9.20M461.62 349.53h9.20" stroke="#f28522" stroke-width="1.5" fill="none"/>
<polygon points="466.22,332.05 468.57,338.12 475.06,338.48 470.02,342.59 471.69,348.88 466.22,345.35 460.75,348.88 462.42,342.59 457.37,338.48 463.87,338.12" fill="#f28522"/>
<polygon points="506.04,392.60 508.39,398.66 514.89,399.03 509.85,403.14 511.51,409.42 506.04,405.90 500.58,409.42 502.24,403.14 497.20,399.03 503.69,398.66" fill="#f28522"/>
<polygon points="545.87,392.60 548.22,398.66 554.71,399.03 549.67,403.14 551.33,409.42 545.87,405.90 540.40,409.42 542.06,403.14 537.02,399.03 543.51,398.66" fill="#f28522"/>
<polygon points="585.69,325.51 588.04,331.57 594.53,331.93 589.49,336.04 591.15,342.33 585.69,338.80 580.22,342.33 581.89,336.04 576.84,331.93 583.34,331.57" fill="#f28522"/>
</g>
<path d="M87.90 217.80V410.00M79.30 401.90H605.60M82.80 217.80H605.60V410.00M82.80 381.44h5.10M79.30 360.99h8.60M82.80 340.53h5.10M79.30 320.08h8.60M82.80 299.62h5.10M79.30 279.17h8.60M82.80 258.71h5.10M79.30 238.26h8.60M127.72 401.90v8.1M167.55 401.90v8.1M207.37 401.90v8.1M247.19 401.90v8.1M287.02 401.90v8.1M326.84 401.90v8.1M366.66 401.90v8.1M406.48 401.90v8.1M446.31 401.90v8.1M486.13 401.90v8.1M525.95 401.90v8.1M565.78 401.90v8.1" stroke="#000" stroke-width="1.5" fill="none"/>
<text x="73" y="407.60" text-anchor="end" font-size="17.3">0%</text>
<text x="73" y="366.69" text-anchor="end" font-size="17.3">25%</text>
<text x="73" y="325.78" text-anchor="end" font-size="17.3">50%</text>
<text x="73" y="284.87" text-anchor="end" font-size="17.3">75%</text>
<text x="73" y="243.96" text-anchor="end" font-size="17.3">100%</text>
<text x="107.81" y="420.70" text-anchor="middle" font-size="17.3">Mg</text>
<text x="147.63" y="420.70" text-anchor="middle" font-size="17.3">Al</text>
<text x="187.46" y="420.70" text-anchor="middle" font-size="17.3">Si</text>
<text x="227.28" y="420.70" text-anchor="middle" font-size="17.3">Ca</text>
<text x="267.10" y="420.70" text-anchor="middle" font-size="17.3">Ti</text>
<text x="306.93" y="420.70" text-anchor="middle" font-size="17.3">Fe</text>
<text x="386.57" y="420.70" text-anchor="middle" font-size="17.3">V</text>
<text x="426.40" y="420.70" text-anchor="middle" font-size="17.3">Mn</text>
<text x="466.22" y="420.70" text-anchor="middle" font-size="17.3">Ni</text>
<text x="506.04" y="420.70" text-anchor="middle" font-size="17.3">Cu</text>
<text x="545.87" y="420.70" text-anchor="middle" font-size="17.3">Cd</text>
<text x="585.69" y="420.70" text-anchor="middle" font-size="17.3">Pb</text>
<text transform="translate(14.70,309.35) rotate(-90)" text-anchor="middle" font-size="17.3" font-weight="bold"><tspan font-style="italic">L</tspan>%</text>
<text x="578.40" y="237.50" font-size="17" font-weight="bold">b)</text>
<rect x="611.60" y="51.45" width="27.60" height="12.80" fill="#48f416"/><rect x="611.60" y="51.45" width="27.60" height="12.80" fill="none" stroke="#000" stroke-width="1.4"/>
<rect x="611.60" y="67.60" width="27.60" height="12.80" fill="#87defa"/><path d="M611.60 77.00L621.00 67.60M617.60 80.40L630.40 67.60M627.00 80.40L639.20 68.20M636.40 80.40L639.20 77.60" stroke="#000" stroke-width="1.7" fill="none"/><rect x="611.60" y="67.60" width="27.60" height="12.80" fill="none" stroke="#000" stroke-width="1.4"/>
<rect x="611.60" y="86.20" width="27.60" height="12.80" fill="#c86efa"/><path d="M611.60 87.00h27.60M611.60 93.15h27.60M611.60 99.20h27.60" stroke="#000" stroke-width="1.7" fill="none"/><rect x="611.60" y="86.20" width="27.60" height="12.80" fill="none" stroke="#000" stroke-width="1.4"/>
<rect x="611.60" y="104.70" width="27.60" height="12.80" fill="#80621e"/><path d="M630.40 104.70L639.20 113.50M621.00 104.70L633.80 117.50M611.60 104.70L624.40 117.50M611.60 114.10L615.00 117.50" stroke="#000" stroke-width="1.7" fill="none"/><rect x="611.60" y="104.70" width="27.60" height="12.80" fill="none" stroke="#000" stroke-width="1.4"/>
<polygon points="625.45,118.10 627.72,123.97 634.01,124.32 629.13,128.30 630.74,134.38 625.45,130.97 620.16,134.38 621.77,128.30 616.89,124.32 623.18,123.97" fill="#f28522"/>
<text x="643.50" y="62.20" font-size="12.8">HCl</text>
<text x="643.50" y="78.60" font-size="12.8">HNO<tspan font-size="8.5" dy="3">3</tspan></text>
<text x="643.50" y="96.90" font-size="12.8">H<tspan font-size="8.5" dy="3">2</tspan><tspan dy="-3">SO</tspan><tspan font-size="8.5" dy="3">4</tspan></text>
<text x="643.50" y="115.90" font-size="12.8">Citrate</text>
<text x="643.50" y="131.40" font-size="12.8">Ash-IL</text>
<rect x="613.84" y="271.35" width="27.60" height="12.80" fill="#48f416"/><rect x="613.84" y="271.35" width="27.60" height="12.80" fill="none" stroke="#000" stroke-width="1.4"/>
<rect x="613.84" y="287.50" width="27.60" height="12.80" fill="#87defa"/><path d="M613.84 296.90L623.24 287.50M619.84 300.30L632.64 287.50M629.24 300.30L641.44 288.10M638.64 300.30L641.44 297.50" stroke="#000" stroke-width="1.7" fill="none"/><rect x="613.84" y="287.50" width="27.60" height="12.80" fill="none" stroke="#000" stroke-width="1.4"/>
<rect x="613.84" y="306.10" width="27.60" height="12.80" fill="#c86efa"/><path d="M613.84 306.90h27.60M613.84 313.05h27.60M613.84 319.10h27.60" stroke="#000" stroke-width="1.7" fill="none"/><rect x="613.84" y="306.10" width="27.60" height="12.80" fill="none" stroke="#000" stroke-width="1.4"/>
<rect x="613.84" y="324.60" width="27.60" height="12.80" fill="#80621e"/><path d="M632.64 324.60L641.44 333.40M623.24 324.60L636.04 337.40M613.84 324.60L626.64 337.40M613.84 334.00L617.24 337.40" stroke="#000" stroke-width="1.7" fill="none"/><rect x="613.84" y="324.60" width="27.60" height="12.80" fill="none" stroke="#000" stroke-width="1.4"/>
<polygon points="628.15,338.00 630.42,343.87 636.71,344.22 631.83,348.20 633.44,354.28 628.15,350.87 622.86,354.28 624.47,348.20 619.59,344.22 625.88,343.87" fill="#f28522"/>
<text x="646.20" y="282.10" font-size="12.8">HCl</text>
<text x="646.20" y="298.50" font-size="12.8">HNO<tspan font-size="8.5" dy="3">3</tspan></text>
<text x="646.20" y="316.80" font-size="12.8">H<tspan font-size="8.5" dy="3">2</tspan><tspan dy="-3">SO</tspan><tspan font-size="8.5" dy="3">4</tspan></text>
<text x="646.20" y="335.80" font-size="12.8">Citrate</text>
<text x="646.20" y="351.30" font-size="12.8">Ash-IL</text>
</svg>
</body></html>
